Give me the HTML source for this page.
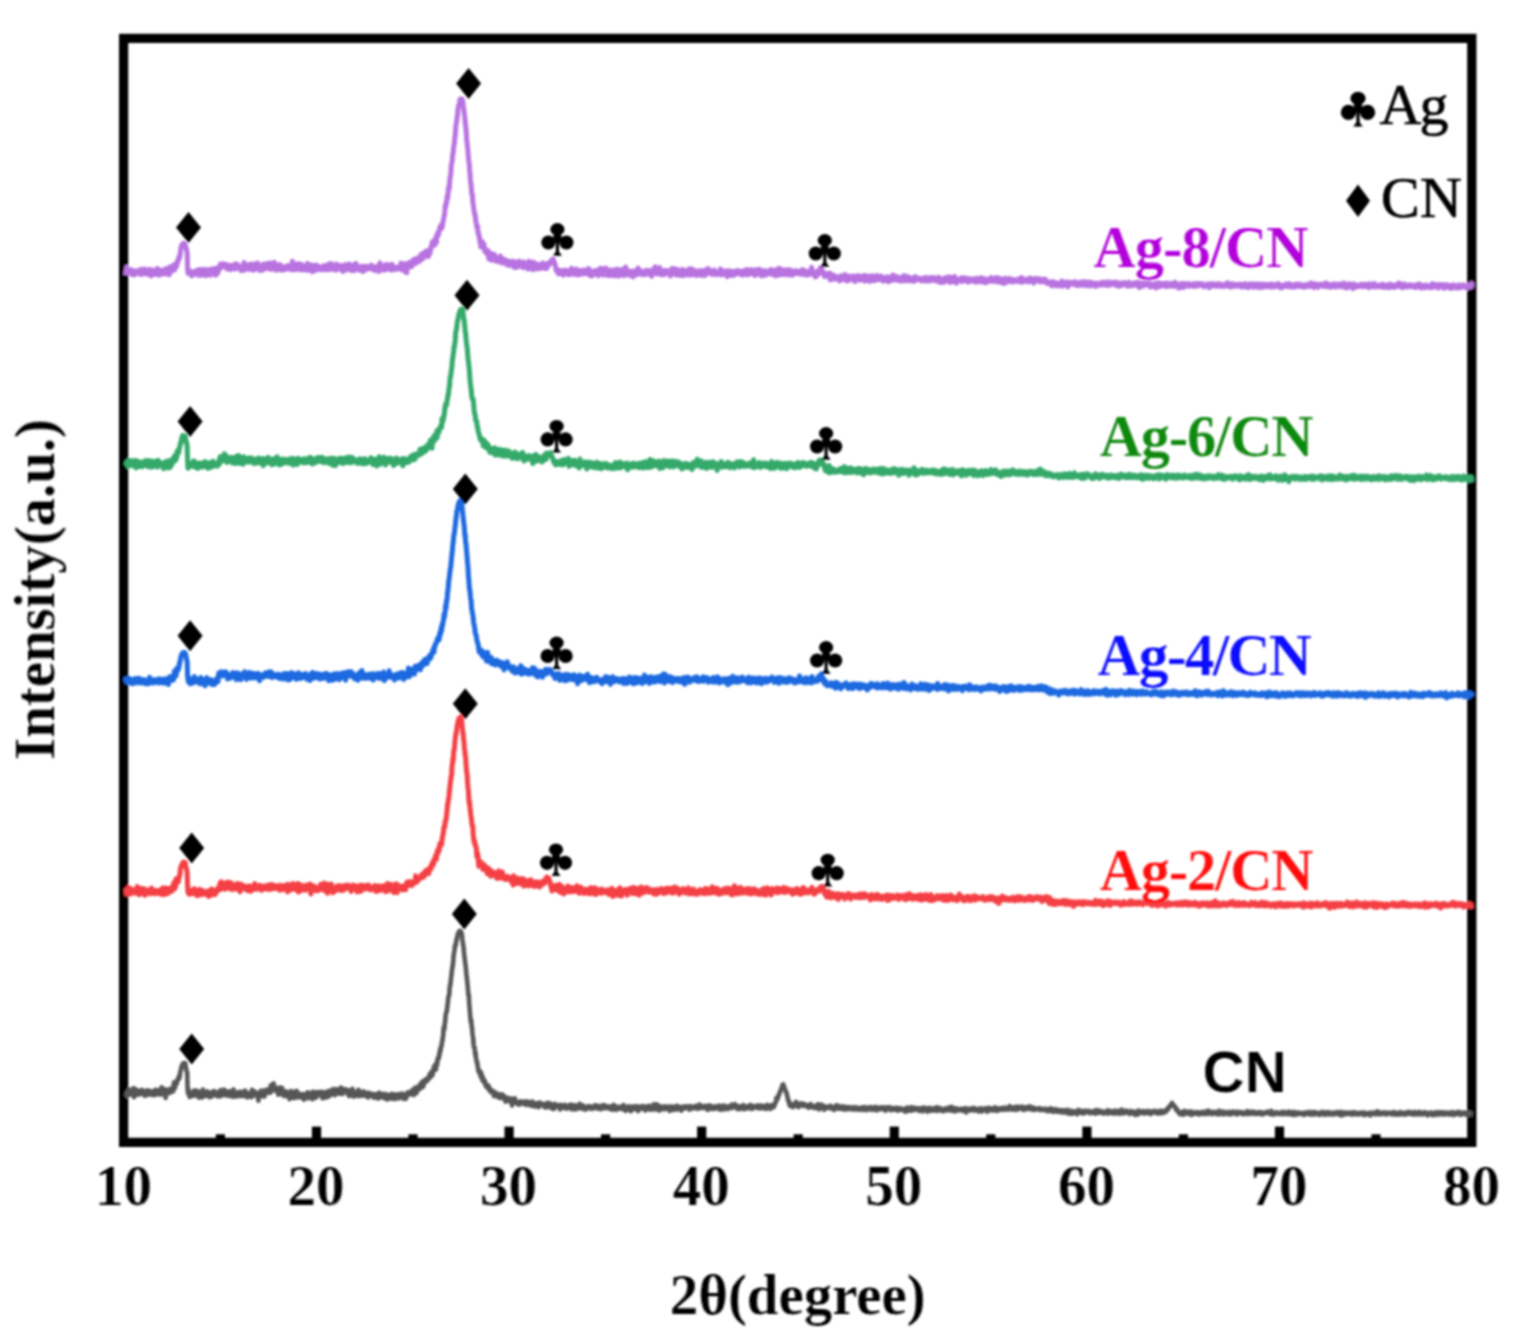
<!DOCTYPE html>
<html lang="en"><head><meta charset="utf-8"><title>XRD patterns of CN and Ag/CN samples</title>
<style>
html,body{margin:0;padding:0;background:#fff;}
body{width:1517px;height:1340px;overflow:hidden;}
svg{display:block;}
text{font-family:"Liberation Serif","DejaVu Serif",serif;fill:#000;}
.b{font-weight:bold;stroke:#fff;stroke-width:0.12px;}
.lg{stroke:#000;stroke-width:0.7px;}
.sans{font-family:"Liberation Sans","DejaVu Sans",sans-serif;font-weight:bold;stroke:#fff;stroke-width:0.12px;}
.cv{fill:none;stroke-width:50;stroke-linejoin:round;stroke-linecap:butt;}
</style></head><body>
<svg width="1517" height="1340" viewBox="0 0 1517 1340" role="img" aria-label="XRD patterns">
<defs><filter id="soft" filterUnits="userSpaceOnUse" x="0" y="0" width="1517" height="1340"><feGaussianBlur stdDeviation="1"/></filter></defs>
<rect width="1517" height="1340" fill="#fff"/>
<g filter="url(#soft)">
<path id="frame" fill="#000" fill-rule="evenodd" d="M119.00,33.85 H1476.45 V1147.00 H119.00 Z M128.25,43.10 H1467.15 V1137.65 H128.25 Z"/>
<g id="ticks" fill="#000">
<rect x="215.8" y="1134.3" width="9.2" height="5"/>
<rect x="311.9" y="1126.6" width="9.2" height="12"/>
<rect x="408.4" y="1134.3" width="9.2" height="5"/>
<rect x="504.5" y="1126.6" width="9.2" height="12"/>
<rect x="601.0" y="1134.3" width="9.2" height="5"/>
<rect x="697.1" y="1126.6" width="9.2" height="12"/>
<rect x="793.6" y="1134.3" width="9.2" height="5"/>
<rect x="889.7" y="1126.6" width="9.2" height="12"/>
<rect x="986.2" y="1134.3" width="9.2" height="5"/>
<rect x="1082.3" y="1126.6" width="9.2" height="12"/>
<rect x="1178.8" y="1134.3" width="9.2" height="5"/>
<rect x="1274.9" y="1126.6" width="9.2" height="12"/>
<rect x="1371.4" y="1134.3" width="9.2" height="5"/>
</g>
<g id="curves" transform="scale(0.1)">
<path class="cv" stroke="#b873e0" d="M1256,2751l4-36 4-4 4-39 4 48 4-6 4-4 4 16 4 2 4-27 4 3 4 7 4 21 4-2 4-33 4 3 4 33 4 15 4-29 4-11 4 32 4-26 4 19 4 15 4-17 4-10 4 12 4-25 4 9 4-7 4 6 4-5 4 6 4-4 4 9 4-1 4 4 4 20 4-53 4 51 4-27 4-18 4 19 4 5 4 17 4-38 4 23 4-2 4-32 4 9 4 32 4 2 4 7 4-10 4-3 4-5 4 20 4-37 4 12 4 10 4-35 4 52 4-38 4 13 4 40 4-54 4 5 4 38 4-47 4 11 4 17 4-1 4 3 4-4 4 17 4-6 4-7 4-23 4-1 4-21 4 46 4-45 4 49 4 17 4-52 4 7 4 3 4 24 4-31 4 14 4-7 4 4 4 28 4-40 4 18 4 4 4 10 4-39 4 42 4-13 4 7 4-16 4-32 4 17 4 26 4-15 4-3 4 32 4 7 4-42 4 35 4-72 4-2 4 52 4-22 4 14 4-2 4-16 4 9 4-14 4-36 4 27 4-6 4 25 4-59 4 16 4-13 4-4 4 23 4-31 4-23 4 2 4 1 4-37 4-2 4 6 4-29 4-31 4-23 4-16 4-26 4 9 4-11 4-9 4-8 4 3 4 6 4 0 4-3 4 7 4 23 4 6 4 19 4 14 4 15 4 175 4 34 4-2 4-25 4 2 4 16 4-6 4 10 4-15 4 24 4 21 4-4 4 1 4-28 4 16 4-24 4 24 4-24 4-2 4-3 4 25 4-8 4-2 4-24 4 24 4-29 4 53 4-29 4 5 4-5 4-27 4 4 4 24 4 28 4-47 4 7 4 12 4-29 4-1 4 24 4 6 4-6 4 35 4-31 4 9 4 23 4 2 4-60 4 22 4 28 4-46 4 8 4-6 4-2 4 5 4 23 4 20 4 5 4-28 4-35 4 34 4-5 4 12 4-8 4-30 4 39 4-44 4 25 4 18 4 0 4 22 4-71 4 49 4 6 4-18 4 15 4-42 4 22 4-12 4-38 4-4 4-2 4-18 4 28 4-15 4 22 4-2 4-19 4-4 4-13 4 3 4 1 4 21 4-21 4 18 4 3 4-12 4 6 4 30 4 3 4-42 4 11 4-3 4 2 4 33 4-15 4 11 4 10 4-40 4 5 4 5 4 18 4-20 4 14 4 10 4 0 4-12 4-22 4-14 4 49 4-11 4-25 4 8 4 1 4-21 4 35 4-18 4 9 4 19 4-15 4 12 4-1 4-7 4 0 4 33 4-37 4 32 4-45 4 29 4-10 4-16 4-35 4 77 4-50 4 4 4 19 4-1 4 4 4-10 4-22 4 43 4-32 4 20 4 6 4 11 4-25 4-1 4 1 4-29 4 19 4-4 4-3 4 24 4-9 4 35 4-2 4-61 4 36 4-20 4 28 4-7 4 14 4-11 4 8 4-19 4-40 4 24 4 6 4 6 4-9 4 47 4-32 4 26 4-29 4 36 4-52 4 33 4-36 4 31 4 19 4-59 4 13 4 19 4-9 4-22 4 44 4-21 4 22 4-19 4-27 4 11 4 32 4-51 4 16 4 18 4 6 4-2 4-40 4 65 4-40 4 5 4 0 4-3 4-12 4 13 4 31 4-48 4-18 4 55 4-3 4 8 4 19 4-43 4 18 4 6 4 13 4-3 4-34 4-10 4 20 4-24 4 49 4-27 4 1 4-10 4 44 4-23 4-12 4 18 4-12 4 12 4 13 4-28 4 14 4-1 4 12 4-10 4-10 4-12 4 17 4-24 4 30 4-10 4 8 4-19 4-5 4-2 4 37 4-24 4 0 4-29 4 32 4-62 4 87 4-29 4 5 4-26 4 6 4 31 4-15 4 12 4 15 4-11 4-46 4 16 4-2 4 4 4-21 4 0 4 24 4 2 4 20 4-15 4 32 4-59 4 8 4 30 4-10 4-13 4 32 4 6 4 4 4-31 4 7 4 4 4-3 4 18 4-27 4 15 4-46 4 53 4 16 4-30 4 19 4-48 4 24 4-22 4 33 4 4 4-34 4 9 4 5 4 54 4-45 4 4 4 4 4-1 4-10 4-19 4 12 4 41 4-25 4-11 4-17 4 23 4 1 4-12 4 28 4-27 4 8 4 18 4-11 4 16 4-24 4-4 4 17 4-5 4 17 4-14 4-7 4 8 4 4 4-32 4 18 4-4 4 28 4-30 4 27 4-41 4 21 4 21 4-24 4 25 4-57 4 37 4 2 4-5 4-25 4 40 4-54 4 59 4-12 4 12 4-22 4-15 4 10 4 1 4 20 4-17 4 13 4 2 4 16 4-61 4 29 4 19 4 0 4-22 4 5 4 3 4 5 4-13 4-1 4-10 4 13 4 31 4-43 4 34 4 17 4-32 4 38 4-45 4 31 4-31 4-22 4 28 4 27 4-45 4 18 4-27 4 1 4 24 4-13 4 13 4 12 4-45 4 9 4 12 4 41 4-47 4-2 4 18 4 31 4-48 4 6 4 8 4 13 4 27 4-61 4-6 4 34 4 7 4-48 4 30 4 29 4-26 4 19 4-4 4 8 4-4 4-3 4 18 4-33 4 13 4 18 4-31 4 4 4-7 4-3 4 53 4-28 4 25 4-20 4-12 4-7 4 10 4-5 4 17 4-32 4 18 4 6 4-13 4 0 4 14 4 0 4-12 4 2 4-10 4 20 4-12 4-26 4 22 4 17 4-6 4-21 4 29 4-3 4 0 4 17 4-34 4 17 4-15 4 22 4 3 4-12 4 4 4-28 4 26 4-33 4 61 4-19 4-48 4-20 4 71 4-39 4 25 4-33 4 24 4-13 4 23 4-17 4 33 4-41 4 37 4-24 4 10 4-38 4-3 4 50 4-41 4 16 4 1 4-11 4 20 4-29 4 4 4 38 4-31 4 27 4-1 4 15 4-19 4-41 4 21 4 4 4 30 4-16 4-15 4 17 4-15 4 17 4-8 4 18 4-14 4 11 4-18 4 13 4-15 4 14 4-8 4-6 4-5 4 2 4 14 4-50 4 64 4-65 4 39 4-3 4 19 4-9 4-5 4 3 4 15 4 25 4-35 4-44 4 28 4 12 4 50 4-76 4 4 4 15 4-7 4-32 4 38 4-43 4 16 4 26 4-50 4 15 4 34 4-37 4-17 4 6 4 23 4-46 4 15 4-18 4 3 4 42 4-27 4-9 4 13 4-23 4-12 4 40 4-7 4-34 4 26 4 11 4-20 4-2 4-34 4 17 4-34 4 52 4-26 4 24 4-41 4 27 4-48 4 18 4 13 4-7 4-11 4-32 4 50 4-15 4 5 4-4 4-31 4 11 4 37 4-66 4 19 4-21 4 38 4-32 4-26 4 5 4-23 4-24 4-17 4 28 4-15 4 14 4-26 4 11 4 20 4-62 4-9 4 32 4 16 4-67 4-23 4 17 4-12 4 10 4-42 4 5 4-11 4-33 4-9 4 26 4-8 4-34 4 33 4-21 4-30 4-18 4-25 4-14 4-19 4-35 4-60 4 14 4-33 4-28 4 12 4-64 4 27 4-48 4-45 4-27 4 25 4-50 4-66 4-10 4-21 4-82 4-23 4-12 4-44 4-47 4-1 4-56 4-31 4-10 4-68 4-3 4-73 4-44 4-25 4-20 4-33 4-33 4-48 4-24 4-13 4-10 4-14 4-36 4 4 4-5 4-2 4 2 4-1 4 2 4 23 4 34 4 27 4 37 4 29 4 27 4 60 4 25 4 34 4 48 4 75 4 23 4 37 4 41 4 60 4 45 4 11 4 66 4 40 4 62 4 42 4 4 4 89 4 15 4-6 4 84 4 13 4 38 4 23 4 33 4 19 4-1 4 39 4 35 4 17 4 31 4 7 4-20 4 75 4-9 4 11 4 38 4 1 4 52 4-15 4 59 4-35 4 0 4 4 4-22 4 29 4 8 4 13 4-29 4 47 4 29 4-26 4 13 4 14 4-17 4 13 4 31 4-8 4-21 4-4 4 80 4-28 4-32 4 38 4 11 4-9 4-35 4 68 4-20 4-14 4 18 4-16 4-1 4 24 4-51 4 56 4-10 4 8 4 4 4 13 4-1 4-9 4-22 4 21 4-20 4-8 4 28 4-1 4 17 4-60 4 51 4 3 4-9 4 26 4-42 4 24 4-12 4 8 4-17 4 17 4 16 4-9 4 5 4-19 4 45 4-41 4 14 4 12 4-13 4 18 4-9 4 29 4-20 4-1 4-21 4 24 4 11 4-9 4-23 4 8 4 7 4 5 4-24 4 60 4-36 4 5 4-10 4 8 4 36 4-52 4 8 4-9 4 9 4 38 4-39 4 4 4-24 4 26 4 12 4-13 4 2 4 22 4-4 4-12 4-11 4-13 4 58 4-58 4 40 4-15 4-9 4 30 4-30 4 37 4-41 4 28 4 15 4-41 4 56 4-22 4-55 4 66 4 9 4-39 4 2 4 11 4-41 4 38 4 14 4-26 4 30 4 20 4-75 4 3 4 21 4 24 4-4 4-23 4-4 4 8 4 44 4-47 4 7 4 28 4-22 4-13 4 44 4-20 4-18 4 5 4 24 4-23 4 11 4 12 4 2 4-52 4 25 4 3 4 8 4 12 4 7 4-30 4-13 4 21 4-16 4 39 4-27 4-9 4 13 4-32 4 1 4-1 4 7 4 3 4-13 4-8 4-13 4 2 4-7 4 3 4-12 4-1 4 11 4 17 4 7 4 17 4 9 4 8 4 41 4 7 4-13 4 8 4 24 4-19 4-8 4 40 4-30 4 2 4 17 4-23 4 13 4 3 4 11 4-27 4 33 4-13 4 26 4-28 4-14 4 0 4-10 4 20 4-1 4 17 4-14 4-17 4 34 4-26 4 13 4 21 4-3 4-36 4 11 4 26 4-6 4-8 4 7 4-55 4 33 4-20 4 14 4 5 4 15 4 13 4-7 4-9 4-11 4 29 4-18 4-37 4 31 4 10 4-26 4 22 4 23 4-32 4 4 4 0 4-17 4 9 4-9 4 13 4-9 4 32 4-20 4 18 4-38 4 22 4 11 4 2 4-23 4 9 4 4 4-8 4-1 4 17 4-31 4-11 4 24 4 14 4-46 4 66 4-23 4 9 4-26 4 15 4 34 4 1 4-22 4-17 4 3 4 27 4-37 4-4 4 14 4 19 4-35 4 26 4 0 4-4 4-5 4 19 4-6 4-37 4 56 4-21 4-2 4-13 4 2 4-41 4 42 4 15 4 0 4-23 4-31 4 23 4 15 4 29 4-53 4 30 4 11 4 0 4-12 4-49 4 61 4-8 4 8 4-27 4 8 4 36 4-29 4 2 4-13 4 36 4-53 4 20 4 18 4-9 4 17 4-8 4 18 4-30 4 2 4 7 4-37 4 58 4-43 4 38 4 5 4-7 4-15 4-15 4-28 4 49 4-14 4 35 4-36 4 16 4-18 4 15 4-15 4 4 4-32 4 22 4 10 4 26 4-19 4-27 4 51 4-22 4 14 4-37 4-43 4 45 4-4 4 23 4-33 4 12 4-9 4 27 4-19 4 42 4-11 4 1 4-19 4 8 4 11 4-31 4 38 4-24 4 25 4 17 4-12 4-48 4 42 4-28 4-2 4 3 4-17 4 26 4-18 4 33 4-14 4-53 4 30 4-1 4 5 4 1 4 15 4-6 4-17 4 27 4 8 4-16 4 20 4-14 4-18 4 3 4 7 4 9 4-7 4 15 4 2 4-39 4-2 4 18 4 10 4 8 4-5 4-1 4-28 4 23 4-18 4 18 4 8 4-28 4 8 4 47 4-57 4 4 4-11 4-6 4 43 4-30 4 1 4-4 4-36 4 63 4-23 4 8 4 25 4-27 4 4 4 1 4 19 4-46 4 13 4-29 4 39 4 11 4-19 4 42 4-17 4 17 4-31 4 29 4-40 4 16 4-4 4-10 4 37 4-6 4-34 4 24 4-10 4 1 4 9 4-20 4 13 4 2 4-15 4 1 4 25 4-15 4 41 4-3 4-50 4 18 4-40 4 23 4-4 4 3 4-24 4 42 4-2 4-16 4 13 4 17 4 12 4-50 4 51 4-58 4 16 4 8 4 34 4-16 4 0 4 17 4-23 4-12 4 33 4-29 4-18 4-8 4 33 4 29 4-19 4-12 4 20 4-47 4 33 4-16 4 33 4-39 4 29 4-11 4-3 4 12 4-14 4 27 4-29 4-33 4 62 4-2 4-14 4 15 4-12 4-26 4-21 4 17 4 13 4 14 4-33 4 8 4 42 4-38 4-1 4-3 4 44 4-15 4 2 4 13 4-12 4 7 4-17 4 9 4-4 4 1 4-32 4 16 4-2 4-5 4 10 4 32 4-15 4-15 4 5 4 18 4-45 4 27 4 22 4 2 4-15 4-6 4-40 4 19 4 11 4 7 4 1 4-46 4 30 4 13 4-17 4 9 4 12 4-3 4-2 4 9 4 6 4-23 4-13 4 6 4 3 4 8 4-25 4 13 4 8 4 27 4-14 4-11 4 17 4-11 4 1 4 13 4-12 4-3 4 10 4-21 4 10 4-36 4 28 4 32 4-31 4 6 4-7 4-10 4 25 4-8 4 18 4-33 4 16 4-7 4-4 4 28 4-30 4 0 4 54 4-43 4-2 4 11 4-25 4 23 4-25 4 11 4-1 4 31 4-12 4 20 4-2 4-39 4 20 4-16 4-3 4 30 4 4 4-22 4 4 4-1 4 0 4 1 4-22 4 26 4-21 4-8 4 17 4 6 4 10 4-8 4-1 4-16 4 18 4-4 4 2 4-17 4 40 4-16 4-1 4-9 4-7 4 20 4-37 4 15 4 2 4 14 4-14 4 28 4-52 4 54 4-20 4 10 4-23 4 25 4-22 4 9 4-28 4 33 4-7 4-33 4 29 4-3 4 18 4-24 4 14 4 18 4-35 4 44 4-26 4-8 4-18 4-7 4 44 4-23 4-2 4 27 4-6 4-9 4-26 4-8 4 47 4-16 4-3 4 35 4-38 4 13 4 28 4-24 4-19 4-5 4 33 4-39 4 33 4 13 4-28 4 15 4-12 4 22 4-18 4-16 4 17 4-3 4-13 4 6 4-15 4 6 4 23 4-39 4 34 4-5 4-9 4 32 4-12 4-20 4 12 4 12 4-40 4 29 4-8 4 10 4 28 4-44 4 5 4-14 4 23 4 6 4-49 4 62 4 2 4-67 4 18 4 32 4-6 4 17 4-23 4 25 4-42 4 28 4-13 4-1 4-20 4 21 4 28 4-32 4 7 4 6 4-18 4 20 4 4 4-12 4-26 4 54 4-24 4-1 4-3 4-6 4-16 4 25 4 3 4 13 4 10 4-37 4 37 4-24 4 8 4-25 4 21 4-20 4 25 4-30 4 20 4-7 4 12 4-1 4-2 4-10 4 21 4-4 4-21 4 24 4-22 4 11 4-2 4 0 4 13 4-40 4 48 4-47 4 46 4-10 4-32 4 29 4-11 4-13 4 37 4-1 4-12 4 21 4-24 4-7 4 25 4-32 4 24 4 5 4-14 4-2 4 6 4-3 4-15 4-44 4 47 4-13 4 38 4-21 4 12 4 9 4 6 4-29 4 48 4-20 4-5 4-26 4 42 4-23 4 3 4-25 4 30 4-11 4-29 4 28 4-52 4 24 4-9 4 1 4-14 4 13 4 27 4 9 4-10 4 4 4 4 4 35 4-15 4 1 4-15 4 3 4 11 4-13 4 25 4 2 4-10 4 9 4 5 4-25 4 38 4-52 4 72 4-51 4 23 4-5 4 11 4-17 4 21 4-32 4 36 4-16 4 11 4 10 4-33 4 9 4-2 4 10 4 4 4 8 4-7 4-6 4 11 4 7 4-1 4 17 4-41 4 13 4-23 4 10 4 19 4 10 4-26 4 14 4-5 4 6 4-4 4-10 4-27 4 11 4 29 4-7 4 32 4-30 4 13 4-31 4-3 4 23 4 22 4-18 4-11 4 11 4 3 4-3 4-6 4-16 4-1 4 9 4 6 4-17 4 43 4-15 4-16 4 19 4 24 4-32 4 0 4 12 4-35 4 12 4-3 4 22 4-36 4 30 4-12 4 3 4-4 4 30 4-34 4-5 4 22 4-13 4 16 4-8 4 1 4 1 4-26 4-4 4 59 4-47 4 25 4-24 4 15 4-2 4 25 4-24 4-20 4 2 4 25 4 9 4 16 4 2 4-51 4 18 4-15 4 21 4 8 4-38 4 39 4-2 4-14 4-5 4 33 4-26 4-14 4 18 4 13 4-5 4-38 4 9 4 13 4 9 4 0 4-21 4 32 4-7 4-29 4 9 4 12 4-20 4 22 4 3 4-9 4 15 4 17 4-35 4 16 4-13 4 29 4-4 4-18 4-9 4 20 4-12 4-16 4 3 4 12 4 33 4-15 4 4 4-6 4 6 4 2 4-37 4 24 4 1 4-2 4-1 4-42 4 39 4-22 4 33 4-21 4 4 4 3 4-28 4 26 4-15 4 31 4-21 4-8 4 33 4-21 4-10 4 13 4-2 4 7 4-18 4 29 4-10 4 18 4-15 4-21 4 29 4-19 4 5 4-35 4 17 4 36 4-3 4-40 4 29 4 0 4 13 4-33 4-8 4 28 4-13 4 1 4-4 4 29 4-29 4 26 4-5 4-18 4 23 4 4 4-12 4-8 4 13 4-20 4 17 4 14 4-39 4-7 4 35 4-22 4 6 4 8 4-10 4 10 4-15 4 6 4 7 4 8 4-13 4 11 4 3 4-1 4-8 4 19 4-28 4 25 4-1 4-1 4-19 4 20 4-7 4-21 4 11 4-14 4 23 4 14 4-6 4-26 4 0 4 11 4 1 4 12 4-15 4 20 4-22 4 21 4-33 4 12 4 8 4 10 4-4 4-18 4-6 4 17 4 0 4-4 4 5 4-18 4 25 4 6 4-25 4 1 4 28 4-2 4-25 4 1 4-14 4 30 4-4 4-2 4 30 4-33 4 1 4 5 4-5 4 17 4-17 4 4 4 28 4-37 4-8 4 18 4-11 4 0 4 12 4 8 4-31 4 17 4-25 4 40 4-26 4 22 4 16 4-6 4-12 4-32 4 51 4-30 4 16 4-17 4 3 4 24 4-42 4 5 4 13 4 17 4-46 4 49 4-22 4 15 4 25 4-27 4 7 4 4 4-22 4 6 4-4 4 5 4-7 4-2 4-1 4 17 4-27 4 19 4 16 4-35 4-5 4 32 4-19 4 1 4 17 4-4 4-13 4 5 4-15 4 12 4 6 4 8 4 1 4 15 4-23 4 13 4-9 4-16 4 17 4 0 4 5 4-3 4-4 4-13 4 7 4 8 4 5 4 2 4-6 4 4 4 10 4-16 4-9 4-11 4 18 4 8 4-13 4 24 4-30 4 6 4 5 4-15 4 28 4-22 4-6 4-8 4 35 4 4 4-28 4-6 4 13 4 5 4-6 4 13 4-20 4 40 4-22 4 9 4-18 4 17 4 9 4-30 4 11 4 11 4-7 4-16 4 5 4 13 4-3 4-12 4 12 4-32 4 29 4 11 4 0 4-17 4 8 4 0 4-4 4-9 4-7 4 10 4-8 4-11 4 40 4-33 4 10 4 0 4-14 4 25 4-25 4 43 4-39 4 7 4 8 4 0 4 2 4 14 4 3 4 13 4-42 4 28 4-4 4-12 4-12 4 45 4-14 4-37 4 40 4-12 4-3 4 6 4-17 4 6 4 13 4-26 4-2 4-4 4 30 4-23 4 9 4-2 4 13 4-3 4-14 4 27 4-12 4-1 4-10 4 1 4 1 4 4 4 5 4 0 4-9 4 2 4 10 4 6 4 0 4-15 4-15 4 17 4 0 4-1 4 5 4-12 4 7 4-29 4 49 4-21 4-4 4 10 4-9 4-6 4 18 4-9 4-9 4 17 4-3 4-1 4-8 4 16 4-23 4 20 4 8 4-29 4 14 4-24 4 21 4-20 4 4 4 18 4 11 4-7 4-8 4-7 4 10 4 28 4-12 4-32 4 7 4-8 4 23 4-10 4-14 4 16 4-4 4-6 4 8 4 14 4-21 4 7 4-12 4 12 4 20 4-9 4-15 4 2 4 21 4-16 4-4 4 19 4-17 4-4 4 13 4-19 4 11 4-3 4 13 4-1 4 24 4-11 4-6 4 8 4-7 4 7 4 5 4 1 4 12 4-8 4-12 4 13 4-15 4 38 4-44 4 20 4 7 4-16 4 5 4 17 4-26 4 25 4-13 4-2 4 27 4-14 4-4 4-7 4 4 4-3 4 22 4-18 4-11 4 3 4 10 4-17 4 4 4-9 4-8 4 51 4-27 4 22 4-13 4-3 4-16 4 12 4 2 4-12 4 18 4 6 4-8 4-3 4-21 4 50 4-23 4-21 4 0 4 5 4-3 4 11 4-10 4 11 4-6 4 2 4-10 4 15 4 1 4-12 4-9 4 19 4-21 4 12 4 13 4 9 4-17 4 7 4 11 4-26 4 7 4 8 4 11 4-28 4 0 4 24 4 3 4-20 4 7 4 10 4-13 4-18 4 23 4 8 4-24 4 28 4-18 4-16 4 22 4-19 4 32 4-10 4 14 4-37 4 19 4 15 4-3 4-6 4-3 4 3 4 4 4 9 4-39 4 8 4 5 4 9 4 2 4-8 4 3 4 9 4 4 4-21 4 6 4 3 4 26 4-33 4 10 4-3 4-5 4 15 4-11 4-4 4 6 4 2 4-10 4-1 4 20 4-18 4 16 4-12 4-7 4-3 4-6 4 25 4 0 4-12 4-7 4 6 4 7 4 12 4-20 4-11 4 20 4-6 4-5 4-11 4 26 4 9 4-26 4-5 4 10 4 2 4 9 4-4 4-19 4 21 4 0 4-9 4 9 4-18 4 11 4-11 4 15 4 8 4-29 4 21 4 8 4-5 4 14 4-18 4 24 4-22 4-13 4 11 4-6 4 20 4 5 4 1 4-10 4-9 4-5 4-6 4 19 4-20 4 11 4 5 4 2 4-19 4 1 4 1 4 22 4-21 4 2 4 16 4 4 4 10 4-20 4 10 4-29 4 26 4 3 4 1 4-15 4 20 4 2 4-17 4 1 4-4 4 0 4 3 4-13 4-1 4 11 4-2 4 15 4-12 4-8 4-8 4 15 4-8 4-7 4 39 4-41 4 38 4 15 4-31 4-6 4 12 4-16 4 11 4 6 4-21 4 30 4-16 4 3 4 11 4-29 4 1 4 17 4 1 4-7 4 2 4-2 4-7 4-4 4 6 4 9 4 4 4-18 4 31 4 7 4-23 4-10 4 6 4 11 4-10 4 21 4-23 4 13 4-5 4 19 4-19 4 1 4-14 4 6 4-11 4 48 4-34 4-2 4 2 4 4 4 2 4-25 4 32 4-12 4-1 4 19 4-16 4-11 4-1 4 18 4-8 4 1 4-15 4 15 4-9 4-1 4 22 4-10 4-6 4 13 4 9 4-35 4 26 4-8 4-3 4 16 4-6 4-14 4 18 4-15 4 2 4-14 4 14 4 6 4-9 4 3 4 14 4-15 4-5 4 24 4-25 4-18 4 12 4 11 4-10 4 0 4 7 4 4 4-1 4 2 4 12 4 23 4-22 4-5 4-14 4 8 4-12 4 11 4-12 4 23 4 11 4-12 4 18 4-40 4 21 4-10 4 3 4-13 4 11 4-1 4-6 4 19 4-4 4 5 4-18 4-1 4-6 4 21 4 2 4-11 4-7 4 9 4 4 4 0 4-8 4 15 4 2 4-23 4 12 4-2 4-14 4 7 4 9 4 10 4-20 4 3 4 2 4-2 4-11 4 24 4-11 4 7 4 3 4-12 4-6 4 3 4 2 4-3 4 5 4-11 4 10 4-2 4 9 4 3 4 14 4-7 4-5 4-7 4 1 4 3 4-6 4 3 4-9 4 13 4-14 4 5 4-1 4 32 4-25 4 9 4-23 4 19 4-9 4 13 4-14 4-8 4 20 4-7 4-15 4 13 4-9 4 18 4-7 4 3 4-13 4 23 4-20 4 10 4-6 4 3 4-13 4 13 4 4 4-18 4 25 4-22 4 5 4-1 4 19 4-17 4 1 4 7 4-1 4 10 4-16 4-2 4-2 4 0 4 16 4-3 4-8 4 2 4-22 4 32 4-4 4-27 4 17 4 4 4 16 4-12 4 11 4 3 4-9 4-17 4-4 4 11 4 11 4-4 4-18 4 21 4-16 4 5 4 15 4-10 4-6 4-3 4 9 4 2 4-4 4-7 4 13 4 4 4-20 4 18 4-13 4 4 4 13 4-23 4 11 4 19 4-2 4-21 4-5 4 24 4-11 4 1 4-19 4 17 4-17 4 13 4 22 4-6 4 4 4-16 4 3 4-8 4 25 4-26 4-9 4 10 4 15 4-16 4 8 4-17 4 8 4-7 4 2 4 9 4 8 4 14 4-14 4-17 4 0 4-4 4 14 4-9 4 8 4-9 4 28 4-20 4 11 4-10 4 26 4-38 4 21 4 9 4-15 4 11 4-11 4 13 4-12 4 18 4-34 4 24 4-13 4 1 4 10 4-12 4-1 4 14 4-18 4 9 4 13 4-19 4 21 4-24 4 14 4-2 4-15 4 23 4-23 4 29 4 1 4-22 4 7 4-3 4-13 4 7 4 8 4 0 4 13 4-17 4-1 4 13 4 1 4-11 4 5 4-8 4 4 4-20 4 3 4 28 4-16 4-5 4 17 4 16 4-10 4-7 4-4 4 19 4-1 4-15 4-6 4 5 4 4 4-7 4-4 4-1 4-9 4 13 4 5 4-17 4 5 4 19 4-19 4 13 4-16 4-8 4 23 4 3 4-4 4-3 4 15 4-18 4-5 4 11 4 8 4-7 4 7 4 5 4-24 4 7 4-1 4 8 4-22 4 26 4-24 4 18 4-7 4-1 4 10 4-19 4 19 4-9 4-11 4 24 4-22 4 18 4-10 4 0 4 18 4-11 4-5 4 11 4-14 4 21 4-22 4 12 4-12 4 13 4-16 4 8 4 9 4-21 4 11 4 6 4-9 4 2 4 10 4 2 4-25 4 7 4-18 4 26 4 7 4-15 4-4 4 17 4-10 4 27 4-6 4-34 4 26 4-1 4 1 4-8 4-14 4 16 4-7 4 24 4-12 4 7 4-24 4 11 4-3 4-6 4 4 4-11 4 17 4-11 4 10 4 3 4-7 4-4 4 15 4 0 4-13 4 16 4-38 4 29 4 3 4-5 4-17 4 17 4 10 4-7 4-16 4 14 4 17 4-4 4 2 4-16 4 9 4-8 4-1 4-10 4 12 4 10 4-9 4-20 4 24 4-17 4 17 4-14 4 24 4-17 4 12 4-25 4 13 4 3 4-16 4 9 4 0 4 7 4-1 4-17 4 28 4-5 4-13 4 16 4-12 4-3 4-8 4-13 4 30 4 8 4-5 4 0 4 14 4-35 4 22 4 13 4-21 4 21 4-23 4-2 4-14 4 25 4 3 4-2 4-4 4 5 4-9 4-15 4 20 4 3 4 22 4-32 4 5 4-19 4 0 4 6 4 27 4-14 4 0 4-6 4 7 4 7 4-3 4-7 4 3 4 2 4 3 4-3 4-7 4-11 4 15 4-1 4-1 4-4 4-7 4 22 4-17 4 6 4-4 4-9 4 20 4-22 4 15 4-4 4 4 4-10 4 21 4 2 4-6 4-12 4-8 4 34 4-41 4 8 4 16 4 1 4-17 4 17 4-19 4 22 4-3 4-5 4 11 4-7 4-27 4 32 4-5 4 7 4-12 4 10 4-11 4 8 4 4 4-14 4-1 4 7 4 7 4-4 4-2 4 5 4-3 4-14 4 24 4-1 4-2 4-28 4 30 4-23 4 11 4-2 4 18 4-7 4-10 4 5 4-11 4-4 4 17 4 1 4-7 4 16 4 2 4-23 4 8 4 2 4-24 4 31 4-2 4-6 4-4 4-3 4 17 4-20 4 11 4-5 4 14 4 1 4-13 4-1 4-13 4 2 4 14 4 1 4-4 4-13 4 3 4-20 4 27 4-24 4 6 4 9 4 20 4-22 4 18 4 13 4-13 4-1 4-18 4 9 4-14 4 23 4 0 4 8 4-13 4 3 4-12 4 13 4 8 4-7 4 3 4-7 4 4 4-4 4-10 4 8 4 9 4-4 4-5 4-7 4 14 4-11 4 3 4 9 4 4 4-16 4 2 4 11 4-10 4 20 4-8 4-8 4-12 4 19 4-6 4-17 4 6 4 7 4 8 4-26 4 18 4 3 4 21 4-20 4-1 4-2 4 4 4 2 4-8 4 7 4 14 4-21 4 9 4 12 4-26 4 7 4-6 4 15 4 3 4-7 4-5 4 0 4 2 4 10 4-7 4 11 4 5 4-23 4 20 4-4 4-13 4-23 4 13 4 17 4-26 4 32 4-22 4 11 4-9 4 3 4 6 4-14 4 9 4-3 4 13 4-17 4 30 4-3 4-30 4 0 4 7 4 9 4 3 4 0 4 2 4-9 4-11 4 3 4 5 4-4 4 32 4-28 4 16 4-4 4-16 4-5 4 10 4 6 4-6 4 14 4-17 4 0 4 9 4 17 4-12 4 11 4-23 4 16 4-6 4 19 4-28 4 7 4-11 4-3 4 19 4-2 4-15 4 19 4-10 4 1 4 19 4-11 4 4 4 4 4-12 4-6 4 18 4 2 4-32 4 7 4 0 4 0 4 21 4-16 4 1 4 5 4 3 4-6 4 4 4-17 4 14 4-9 4 8 4 13 4-9 4-5 4 14 4 5 4-12 4-13 4 22 4-14 4-10 4 14 4-12 4 0 4-6 4 2 4 16 4-32 4 31"/>
<path class="cv" stroke="#34a96b" d="M1256,4657l4-3 4-13 4-21 4 21 4 12 4 12 4-22 4-37 4 22 4-7 4 31 4-5 4-5 4-6 4-29 4 27 4 24 4-37 4 2 4-9 4 17 4 14 4-39 4 40 4-25 4 58 4-46 4 13 4-38 4 49 4-16 4-8 4 33 4-28 4-5 4 33 4-34 4 20 4-23 4-8 4 47 4-21 4 12 4-1 4-15 4 7 4-17 4-1 4 16 4-44 4 36 4-17 4 18 4-20 4 43 4-11 4-24 4 24 4-47 4 9 4 36 4 20 4-31 4 15 4-10 4 26 4-39 4-19 4 15 4 15 4 9 4-22 4 32 4-48 4 32 4-23 4 11 4-3 4 30 4 9 4-68 4 33 4 12 4-22 4 14 4 1 4 16 4-29 4 29 4-18 4 5 4-13 4 10 4 4 4 43 4-27 4-12 4-5 4-18 4 33 4-42 4 7 4 28 4-27 4-8 4 65 4-68 4 11 4-19 4 26 4 15 4 27 4-24 4-14 4-12 4 21 4-27 4 7 4-41 4 30 4-40 4 14 4-32 4 5 4 44 4-27 4-31 4 30 4-66 4 26 4-29 4 22 4-5 4-32 4-20 4-23 4 1 4-28 4-5 4-31 4-9 4-14 4-7 4 4 4-2 4 6 4 0 4-5 4 2 4 30 4 19 4 21 4-1 4 32 4 136 4 84 4-39 4 5 4-5 4-10 4 25 4-20 4 12 4 8 4-9 4-7 4 19 4-12 4-23 4-19 4 18 4 24 4 21 4-35 4 14 4-22 4 33 4 18 4-48 4 17 4 37 4-46 4-7 4 16 4 6 4-10 4 3 4 21 4-37 4 38 4-32 4 28 4 6 4-21 4-10 4-12 4-5 4 38 4-44 4 30 4-7 4 25 4-27 4 33 4-26 4 40 4-44 4-1 4-10 4 39 4-29 4 25 4-25 4-17 4 50 4-4 4-28 4 24 4-51 4 47 4-19 4 10 4-9 4 8 4-7 4-5 4 7 4 5 4 12 4-14 4-23 4 0 4-11 4 31 4-64 4 18 4-33 4 29 4-19 4 11 4-10 4 26 4 8 4-10 4 4 4-7 4-60 4 36 4 24 4-12 4-18 4-9 4 23 4 43 4-45 4 38 4-35 4 29 4-6 4-24 4 3 4 2 4 23 4-38 4 27 4-10 4 42 4-52 4 29 4-2 4 22 4-7 4-45 4 59 4-38 4 17 4-52 4 70 4-24 4 1 4-10 4 30 4-73 4 49 4-14 4 15 4 29 4-44 4 14 4-19 4 36 4-15 4 22 4 12 4-73 4 6 4 22 4 14 4-16 4 26 4-13 4-24 4 25 4-17 4-6 4 20 4-2 4 18 4-40 4-3 4 42 4-17 4 3 4-2 4-24 4 6 4 28 4-3 4-6 4 18 4 13 4-30 4 15 4 7 4-20 4-2 4-17 4 40 4-12 4-5 4-14 4 30 4-48 4 42 4 8 4-22 4-17 4 0 4 33 4-17 4 16 4-28 4-9 4 71 4-69 4 30 4 6 4-21 4 4 4 1 4 24 4-33 4 10 4 20 4-50 4-4 4 23 4-7 4 21 4-4 4-14 4 15 4-16 4 51 4-23 4-22 4 49 4-41 4 13 4-30 4-3 4 52 4-37 4-9 4 4 4 30 4-23 4-7 4-30 4 32 4 19 4-14 4-2 4 49 4-27 4-20 4 19 4-27 4 28 4 18 4-33 4 28 4-31 4-16 4 18 4 1 4 19 4-13 4-15 4 5 4 7 4 10 4-28 4 6 4 11 4-16 4 37 4-20 4-20 4 5 4 35 4-29 4-9 4 30 4 7 4-49 4 33 4 28 4 8 4-20 4-7 4-34 4 35 4-22 4 3 4 18 4-25 4 5 4 41 4-21 4-42 4 16 4-8 4 26 4-24 4 17 4 3 4 8 4-6 4 1 4-4 4-15 4 32 4-16 4-14 4-10 4 25 4 16 4-14 4-26 4 14 4-11 4 13 4 20 4-11 4-5 4-8 4 2 4 10 4-37 4 26 4-27 4 53 4-37 4 35 4-44 4 58 4-17 4-9 4-9 4 0 4 0 4 22 4-6 4 6 4-25 4 4 4-24 4-5 4 36 4-14 4 13 4-4 4-3 4 4 4-35 4 31 4 10 4-6 4 6 4-42 4 50 4-3 4 0 4-6 4 5 4 8 4-24 4 6 4 11 4-33 4 34 4-23 4 4 4-4 4 17 4-26 4 44 4-32 4-4 4 40 4-27 4-27 4 29 4 14 4 10 4-8 4-17 4 45 4-46 4-27 4 63 4-9 4-8 4 26 4-26 4-16 4 7 4-21 4 22 4-21 4-2 4-12 4 27 4 11 4-19 4-23 4 12 4 13 4-3 4-6 4-11 4 49 4-28 4 4 4-5 4-23 4 43 4-34 4 5 4-8 4-11 4 22 4-18 4 15 4 6 4 22 4-55 4 52 4 2 4-39 4 12 4 18 4-37 4 48 4-55 4 38 4-8 4-16 4 3 4 13 4-5 4 3 4-2 4 21 4-7 4-1 4 4 4 2 4 17 4-20 4 2 4-14 4-12 4 10 4 9 4-20 4 43 4-37 4 20 4-15 4 16 4 10 4 10 4-45 4 39 4-29 4 36 4-49 4 12 4 10 4 24 4-21 4 18 4-13 4 8 4-17 4-2 4 6 4-2 4-7 4 1 4-27 4 5 4 13 4 5 4-12 4 57 4-53 4 24 4 9 4-30 4 24 4-11 4-15 4 32 4 3 4 31 4-29 4-38 4 38 4-49 4 23 4-38 4 57 4-12 4 31 4-16 4-23 4 17 4 4 4-29 4 3 4 13 4-39 4 2 4 37 4-6 4-5 4 50 4-37 4 18 4-16 4-6 4-7 4-19 4 27 4-10 4 23 4-27 4 0 4 15 4-30 4 14 4 14 4-5 4 0 4 7 4 2 4 41 4-46 4-13 4 33 4-11 4-11 4 31 4-58 4 37 4-13 4 13 4-1 4 1 4 7 4-26 4 3 4 26 4-16 4-7 4-11 4 17 4-20 4 47 4 21 4-36 4-24 4 31 4-45 4 38 4-14 4 20 4-28 4 11 4 13 4-25 4 27 4-33 4 1 4 27 4-35 4 3 4-14 4-5 4 36 4-20 4-27 4 7 4 7 4 14 4-7 4-5 4-31 4 54 4-48 4 9 4-10 4 25 4-20 4 5 4-15 4-7 4 8 4 3 4 3 4-3 4-1 4-54 4 37 4 3 4 7 4-29 4-16 4-7 4 10 4-16 4 22 4 17 4-39 4 2 4-2 4-11 4 36 4-42 4 31 4-25 4-21 4 14 4-4 4-21 4 7 4 25 4-17 4-52 4 60 4-8 4-10 4 38 4-92 4 29 4 3 4-57 4 41 4-26 4-23 4 41 4-23 4-39 4 11 4-31 4 61 4-76 4 19 4-19 4 25 4-31 4-8 4 0 4-25 4 9 4 7 4-4 4-87 4 35 4-5 4-29 4 0 4-44 4 0 4-57 4-20 4-28 4 23 4-22 4 0 4-42 4-14 4-39 4 5 4-49 4-33 4-2 4-86 4-1 4-36 4-24 4-31 4-25 4-71 4-4 4-48 4-17 4-57 4 1 4-36 4-14 4-84 4-23 4-14 4-25 4-46 4-18 4-19 4-17 4-20 4-18 4-6 4-18 4-10 4-4 4-1 4-2 4 10 4-9 4 15 4 32 4 34 4 24 4 20 4 46 4 54 4 13 4 51 4 39 4 30 4 28 4 42 4 65 4 25 4 39 4 35 4 48 4 64 4 41 4 26 4 35 4 48 4 30 4 12 4 5 4-1 4 48 4 47 4 37 4 18 4 10 4 49 4-3 4 7 4 12 4 50 4-3 4 35 4 15 4 16 4 15 4 26 4-11 4 38 4-12 4 2 4 13 4-1 4 12 4-7 4 53 4-62 4 34 4-9 4-9 4 34 4 24 4-30 4 38 4-46 4 32 4-15 4-2 4 14 4 3 4 25 4 29 4-11 4 16 4-31 4-7 4 39 4 1 4-39 4 13 4 16 4-11 4-19 4 29 4-38 4 75 4-33 4-28 4 41 4 6 4-1 4-18 4-25 4 9 4 48 4-36 4-9 4 8 4-20 4 22 4 13 4-14 4 43 4-47 4 39 4-11 4 22 4-22 4-39 4 12 4 27 4-18 4 38 4-50 4 44 4-19 4 16 4 9 4-51 4 26 4 20 4-5 4-25 4 16 4 8 4-4 4 19 4 20 4-18 4-32 4 7 4 30 4 7 4-30 4 3 4-30 4 63 4-23 4-7 4 22 4-4 4 17 4-40 4 20 4-21 4 19 4-9 4-16 4 8 4 29 4-23 4 13 4-40 4 48 4-50 4 36 4 12 4 37 4-34 4-20 4 8 4 15 4 2 4-13 4 23 4-4 4-25 4 18 4 6 4-32 4 8 4 20 4-8 4 20 4-3 4-19 4 27 4-16 4 13 4 38 4-64 4-15 4 46 4-28 4 0 4 32 4-26 4-34 4 66 4-29 4-10 4 22 4-3 4-17 4 30 4-37 4 26 4-11 4 18 4-1 4-25 4 5 4 41 4-16 4-1 4 1 4-14 4-34 4 17 4 2 4 3 4-42 4 58 4-38 4 18 4-46 4 31 4-18 4 17 4-20 4 10 4-5 4-14 4-3 4 8 4 13 4 12 4 2 4 14 4 13 4 18 4-8 4 26 4 4 4 9 4-28 4 34 4 5 4-19 4-5 4 9 4-17 4 7 4 18 4-22 4 2 4 2 4 5 4 16 4 0 4-41 4 24 4-1 4 16 4 5 4-25 4-1 4-28 4 46 4-2 4-8 4-22 4 21 4-6 4-6 4 11 4-25 4 15 4-36 4 54 4 28 4-64 4 41 4-9 4-8 4 24 4-39 4 31 4-15 4 6 4-27 4 27 4 13 4-8 4-34 4 53 4-12 4-1 4 8 4-23 4 29 4-12 4-12 4 5 4 17 4 26 4-51 4-39 4 56 4-21 4 10 4-3 4 18 4-7 4-16 4 8 4-7 4 9 4 2 4 19 4-40 4 48 4-41 4 28 4 37 4-47 4 27 4-19 4-13 4 33 4-50 4 38 4-15 4 19 4 2 4-7 4-10 4 21 4-41 4 40 4 4 4-31 4 14 4 6 4 15 4-20 4-7 4-2 4-10 4-15 4 57 4-3 4-6 4-22 4 26 4 7 4-26 4 10 4-31 4 28 4 25 4-9 4-2 4-7 4-20 4-9 4 6 4 11 4-3 4 19 4-37 4 36 4-38 4 24 4-1 4 20 4-22 4 3 4 8 4-16 4 32 4-27 4 6 4 18 4-15 4-7 4 21 4-6 4-17 4 33 4-37 4 35 4-6 4-18 4-7 4 17 4-48 4 10 4 48 4-35 4 22 4 5 4-31 4 35 4-44 4 23 4-2 4-35 4 59 4-49 4 5 4 36 4-37 4 25 4-13 4 0 4-8 4 9 4 8 4 6 4-21 4 31 4-18 4 13 4-23 4-12 4 67 4-56 4 38 4-14 4-13 4-8 4 1 4 28 4-33 4 23 4-17 4 0 4-2 4-13 4 35 4 3 4-7 4-26 4 4 4-3 4 28 4-22 4-2 4 14 4 0 4-3 4 10 4-28 4 43 4-37 4-7 4 38 4-40 4 18 4-18 4 43 4-18 4 16 4-26 4-22 4 55 4-6 4-27 4 6 4-12 4-23 4 19 4-14 4 24 4-3 4 15 4 18 4-18 4-19 4-8 4 37 4-74 4 13 4 1 4 61 4-65 4 35 4 26 4-26 4-35 4 37 4-4 4 9 4-21 4 5 4 25 4-17 4-15 4 21 4 6 4 7 4 4 4-50 4 29 4-29 4 25 4 48 4-44 4-2 4-18 4 8 4 17 4 5 4-8 4 34 4-69 4 44 4-44 4 50 4-19 4-17 4 14 4-11 4 20 4-35 4 44 4-2 4-16 4 6 4 18 4 8 4-20 4 1 4-40 4 17 4 18 4-10 4-12 4 20 4 27 4-4 4-55 4 37 4-17 4 30 4-22 4 9 4 4 4-16 4-15 4-4 4 40 4-22 4 7 4 19 4-9 4 15 4-37 4 44 4-19 4 6 4 29 4-29 4-13 4 10 4-3 4 4 4-15 4 18 4 13 4-41 4 29 4-16 4 16 4-18 4 30 4-18 4-15 4 2 4 7 4 15 4-6 4 16 4-31 4 4 4 11 4 35 4-43 4 17 4 4 4-49 4 20 4 12 4-6 4 13 4-2 4-30 4 3 4 3 4-44 4 22 4 33 4-7 4-20 4 16 4 6 4-5 4 30 4-21 4-39 4 53 4 7 4 7 4-17 4-7 4 22 4-14 4-13 4 13 4-24 4 20 4-31 4 26 4 36 4-50 4 4 4 5 4 12 4-31 4 7 4 8 4-3 4-15 4 41 4-1 4 13 4-22 4-23 4-3 4 8 4-16 4 17 4 20 4-9 4-5 4-6 4 35 4-22 4 11 4 44 4-66 4 31 4-6 4-24 4 12 4-10 4-3 4 31 4-27 4-28 4 58 4-17 4-20 4 6 4 16 4-16 4 11 4 16 4-18 4 7 4-3 4-3 4-17 4 34 4-32 4 14 4-28 4 24 4 7 4-19 4 3 4 40 4-13 4-27 4 27 4-15 4 14 4-24 4 17 4 2 4-11 4-7 4 39 4-36 4 24 4-23 4-7 4 17 4-34 4 20 4 16 4-35 4 14 4 12 4 8 4 14 4-4 4-16 4-34 4 37 4-2 4-6 4 8 4-22 4 33 4-13 4-24 4 21 4 12 4-11 4-3 4 19 4-15 4-4 4 4 4-4 4-6 4 2 4 18 4 0 4-10 4-22 4 22 4 11 4 2 4-33 4 30 4 0 4 0 4 16 4-77 4 39 4-3 4 41 4-26 4 21 4-24 4 4 4-8 4 21 4-24 4 11 4 12 4-18 4-20 4 0 4 12 4 40 4-38 4 17 4 10 4-26 4 15 4-16 4 20 4 2 4-30 4 21 4-10 4 18 4 7 4-18 4-15 4 1 4 33 4-6 4-4 4-10 4-7 4 19 4 3 4 21 4-20 4-12 4 34 4-69 4 26 4 25 4-17 4-3 4 10 4 21 4-30 4 34 4-42 4-4 4-3 4 8 4-18 4 30 4 9 4-16 4-13 4 11 4 7 4-21 4 18 4 34 4-35 4-6 4-7 4 34 4-27 4 8 4 32 4-36 4 14 4-1 4-17 4-7 4 47 4-11 4-21 4 38 4-44 4 4 4-15 4 20 4 4 4-14 4 1 4-11 4-1 4 5 4 29 4-16 4 2 4 20 4-6 4-8 4 5 4-21 4 1 4 35 4-2 4-13 4 12 4-23 4 1 4-4 4-22 4 0 4 22 4-17 4 10 4 33 4-25 4-8 4 16 4-6 4-11 4-13 4 32 4-11 4-10 4-11 4 20 4-11 4-2 4 20 4-15 4 19 4 5 4-22 4 5 4 0 4-4 4 11 4-14 4-2 4-8 4 21 4 6 4 5 4-17 4-3 4-17 4 27 4 9 4-3 4-4 4 26 4-26 4-13 4 11 4 13 4-8 4 33 4-38 4 7 4-23 4-10 4 25 4-4 4-43 4 29 4-3 4 10 4-30 4-8 4 12 4 22 4-20 4 31 4 0 4 0 4-2 4 23 4 25 4 1 4 14 4-42 4 35 4-15 4 23 4-12 4 26 4-37 4 13 4-44 4 74 4-47 4 2 4 20 4 22 4-34 4 25 4-32 4 36 4-13 4 9 4-4 4-11 4-3 4 18 4 0 4 7 4-9 4-11 4 4 4-7 4 1 4 11 4 3 4-7 4-9 4 13 4-27 4 30 4-1 4-20 4 6 4 20 4 0 4-16 4 8 4-44 4 51 4 10 4-35 4-23 4 37 4 14 4-22 4 25 4-11 4-8 4 10 4 7 4-14 4-22 4-4 4-5 4 6 4 41 4-7 4-28 4 32 4-32 4 22 4-3 4-12 4 6 4-7 4 8 4 16 4-28 4 23 4-25 4 41 4-41 4-4 4 15 4 0 4 1 4 8 4-26 4 45 4-33 4 5 4-5 4 6 4 22 4-18 4 8 4 33 4-22 4-9 4-28 4 32 4 2 4-14 4-23 4 20 4-9 4 29 4-10 4-2 4-16 4 1 4 22 4 1 4 9 4-17 4-4 4 9 4-23 4 11 4-5 4 21 4-31 4 9 4 9 4 7 4-9 4 7 4-9 4-12 4 17 4 18 4-19 4 0 4 4 4 3 4-5 4-23 4 36 4 11 4-36 4 3 4 13 4-9 4-24 4 58 4-42 4 33 4-25 4-2 4-12 4 18 4 4 4 17 4-19 4-2 4 3 4-12 4 21 4 7 4-16 4 5 4-4 4-9 4 30 4-36 4 24 4 2 4-26 4 25 4-33 4 35 4-36 4 40 4-14 4-29 4 8 4 6 4 2 4 0 4 3 4 7 4-16 4 11 4 4 4 41 4-37 4-15 4 16 4 17 4-7 4-18 4 18 4-35 4 26 4 8 4-19 4 29 4-23 4 3 4-16 4 14 4 3 4 2 4-17 4 12 4-1 4 9 4-12 4-1 4 44 4-15 4-37 4 31 4-28 4 13 4-1 4-2 4 0 4-3 4 12 4 10 4 5 4-60 4 62 4-29 4-18 4 21 4 35 4-11 4-2 4-29 4 34 4 1 4-1 4-8 4-19 4-7 4 1 4 10 4 0 4-3 4-6 4-17 4 19 4-5 4 20 4 9 4-11 4 4 4-5 4-5 4-14 4 3 4 11 4-17 4 30 4-15 4 4 4-5 4-7 4 5 4 14 4 0 4-11 4-3 4 7 4-17 4 12 4-14 4 9 4 21 4-9 4-18 4 5 4 12 4-18 4 16 4 20 4-17 4 13 4-15 4 19 4-18 4-1 4 15 4-22 4 2 4-1 4 8 4-6 4 30 4-44 4 26 4-19 4 12 4 15 4-24 4-23 4 39 4 10 4-18 4-8 4 1 4 11 4-11 4-16 4 15 4 8 4 0 4 3 4 8 4 13 4-39 4 25 4-11 4 1 4-21 4 34 4-39 4 22 4 33 4-33 4 16 4-21 4-1 4 19 4 1 4-14 4-6 4 6 4 5 4-10 4 26 4-23 4 3 4-5 4-7 4 24 4-15 4 14 4-6 4 37 4-26 4 18 4-54 4 28 4 8 4-23 4 18 4-13 4 29 4-23 4 1 4 31 4-32 4-12 4 20 4-16 4-7 4 22 4 4 4-27 4 32 4-34 4 18 4 18 4-8 4-23 4 11 4-7 4-12 4 33 4 22 4-43 4-9 4 14 4 13 4 3 4-16 4 24 4-25 4 13 4 29 4-27 4-3 4 6 4-11 4 4 4-13 4-3 4-3 4 26 4-25 4 22 4 26 4-20 4-18 4 12 4 14 4-27 4 24 4-37 4 7 4 28 4-30 4 35 4-24 4 10 4-5 4-12 4 23 4-10 4 12 4-30 4-14 4 31 4 0 4-2 4 11 4-4 4-25 4 4 4 8 4 8 4-1 4 5 4-33 4 41 4-13 4 5 4 15 4-11 4-14 4 3 4 21 4-14 4 7 4-9 4 24 4 12 4-39 4 3 4-4 4-6 4 39 4-6 4-40 4 7 4 23 4-10 4 13 4-22 4 27 4-39 4 24 4-11 4 6 4 9 4-14 4 0 4-2 4 28 4-40 4 15 4 14 4-26 4-3 4 22 4-27 4-6 4 30 4-6 4 15 4-21 4 21 4-17 4-7 4 27 4 2 4-27 4 6 4 6 4 5 4-7 4-4 4 24 4-15 4-21 4 4 4 5 4 20 4 1 4-24 4 27 4-9 4 4 4-3 4-18 4-2 4 29 4-26 4 16 4 4 4-13 4 15 4-1 4 12 4-20 4-4 4 2 4-15 4 18 4-14 4 10 4 6 4-5 4-17 4 27 4-8 4-13 4 9 4 20 4-21 4 0 4 10 4 2 4-11 4-14 4 10 4-8 4 31 4-11 4-9 4-23 4 18 4 22 4-9 4-9 4-34 4 36 4-6 4 20 4-15 4 7 4 9 4-21 4-7 4 5 4 16 4 17 4-13 4-15 4 34 4-27 4 11 4-6 4 16 4-19 4 11 4 12 4-11 4 5 4 3 4-19 4 23 4-14 4 8 4 1 4 2 4 13 4-16 4 16 4-10 4-5 4 0 4 7 4 2 4-12 4 12 4-6 4 3 4-2 4 0 4-9 4 32 4-10 4-17 4 1 4 0 4 21 4-28 4 23 4-16 4 1 4-9 4 21 4 9 4-9 4-14 4-15 4 18 4 9 4-20 4 18 4-13 4-5 4 0 4 31 4-20 4-13 4 10 4-18 4 7 4-1 4 23 4 9 4-21 4 22 4-24 4 26 4-8 4-3 4-9 4-27 4 31 4-6 4 8 4 6 4-4 4-7 4 10 4-7 4-8 4 16 4-13 4-3 4 20 4-15 4 5 4-16 4 19 4 20 4-20 4 0 4-14 4 19 4-27 4 5 4 13 4 22 4-14 4-14 4-14 4 25 4-27 4 2 4 18 4 0 4-17 4 9 4 11 4-7 4 8 4 6 4 7 4 4 4-11 4-7 4-3 4 29 4-27 4-2 4-7 4 28 4-12 4-15 4-14 4 13 4 6 4 3 4-12 4 8 4 11 4 9 4-6 4-4 4 20 4-25 4 10 4-24 4 3 4 6 4-3 4-9 4 9 4 6 4-12 4 25 4-13 4 11 4-10 4-4 4 4 4 1 4-6 4 12 4-8 4 23 4-3 4-23 4 19 4-9 4-4 4 16 4-29 4 11 4 4 4 8 4-17 4 8 4 2 4-9 4 16 4 2 4-17 4 19 4-19 4 9 4 3 4-6 4 12 4-22 4 10 4-7 4 30 4-4 4-21 4 8 4 5 4-13 4-20 4 15 4 5 4-7 4 5 4 3 4-3 4 12 4 2 4-21 4-1 4 21 4-2 4 6 4-18 4 15 4 1 4-8 4-1 4 9 4-32 4 27 4-1 4 5 4 3 4-12 4-6 4-2 4 19 4-24 4 6 4 2 4 13 4-19 4 6 4 5 4 7 4-8 4 16 4-18 4 8 4 4 4-16 4 11 4-5 4-2 4 2 4 13 4-25 4 15 4 21 4-39 4 21 4 18 4-19 4 25 4-28 4 8 4-8 4-7 4 17 4-4 4-20 4 19 4 5 4 2 4 1 4-3 4 9 4-29 4 2 4 13 4 6 4-2 4-15 4 11 4 6 4-11 4 5 4 1 4-6 4 23 4-22 4-6 4 20 4-19 4 19 4-20 4 16 4-10 4-3 4 3 4-19 4 1 4 29 4 13 4-36 4 6 4 17 4-11 4 8 4-25 4 23 4-13 4 19 4-12 4 8 4-5 4-10 4 25 4-15 4 6 4 18 4-20 4-18 4-9 4 7 4 21 4-20 4 9 4 0 4 12 4-7 4-1 4-7 4 0 4-9 4 11 4 17 4-18 4 2 4-10 4 20 4-16 4 13 4 12 4-24 4 24 4-14 4-12 4 25 4-32 4 25 4-8 4-1 4 4 4-15 4 12 4-7 4 19 4 1 4-18 4 14 4-17 4 4 4 10 4 7 4-14 4-2 4-13 4 24 4-5 4-3 4-4 4 5 4 7 4-1 4-7 4-2 4 8 4-11 4-5 4 0 4 7 4 22 4-8 4-16 4 16 4 6 4-1 4-20 4 13 4-28 4 17 4 11 4 5 4-11 4-6 4 12 4-33 4 17 4 14 4-3 4-22 4 15 4 19 4-32 4 13 4 13 4-23 4 31 4-16 4-2 4 13 4 1 4-3 4-13 4 27 4-27 4 7 4-5 4 5 4-2 4 11 4-12 4 14 4-23 4 5 4 19 4-19 4-6 4 5 4 4 4-3 4 2 4-5 4 1 4-1 4 19 4 4 4-10 4 6 4-9 4 10 4-11 4-6 4 17 4-8 4 11 4-21 4 14 4-9 4-14 4-9 4 24 4-3 4 0 4 8 4 2 4-7 4 18 4-8 4-3 4-25 4 25 4-20 4 9 4 6 4 24 4-20 4-10 4 17 4-11 4 14 4-8 4-10 4-1 4 1 4 11 4-7 4 6 4-3 4-3 4 2 4-9 4 9 4 12 4-7 4 1 4 12 4-28 4 14 4-2 4-6 4-11 4 6 4 7 4-5 4-6 4 20 4-12 4-2 4 22 4-15 4-1 4 26 4-16 4-7 4-17 4 12 4 8 4 14 4-20 4 2 4 6 4-2 4-2 4-7 4 13 4 1 4-7 4 0 4 15 4-33 4-1 4 26 4-15 4 20 4-24 4-18 4 25 4-8 4 31 4-23 4 4 4 15 4-12 4 4 4-19 4 19 4-2 4-6 4-4 4 12 4-19 4 6 4 3 4 1 4 12 4-10 4 5 4 7 4-19 4-1 4 12 4-2 4 20 4-6 4-18 4 6 4-20 4 0 4 23 4-1 4-4 4 27 4-15 4-10 4-11 4 4 4 4 4-9 4-3 4 24 4-11 4-18 4 8 4 2 4 9 4-5 4-5 4 12 4-32 4 43 4-4 4 0 4-19 4 4 4 6 4-6 4 2 4 9 4-14 4 11 4-13 4 19 4-4 4-24 4 11 4 7 4-6 4 0 4 32 4-10 4-19 4 5 4-5 4 0 4-11 4 32 4-11 4 10 4-16 4 28 4-11 4 0 4-34 4 38 4-25 4-26 4 42 4-5 4-12 4 0 4 6 4-5 4 6 4-6 4 12 4 33 4-48 4 12 4 2 4 4 4-4 4-4 4 4 4-7 4-13 4 19 4-3 4 0 4-1 4-13 4 17 4-5 4 14 4-17 4-13 4 9 4 12 4-16 4 18 4-7 4 2 4 6 4-11 4 11 4 9 4-16 4-10 4 6 4 15 4 1 4-21 4 13 4 8 4-6 4-1 4-17 4 14 4-16 4 30 4-12 4-5 4-1 4 3 4-7 4 8 4 2 4-15 4 15 4-20 4 11 4 9 4-5 4-4 4-11 4 33 4-34 4 25 4-20 4-4 4 16 4 5 4-3 4 7 4-13 4 0 4 1 4-4 4 3 4-7 4 5 4 2 4 4 4-17 4 20 4 9 4-10 4-23 4 27 4-1 4 15 4-31 4 16 4 1 4-20 4 5 4 4 4 6 4 5 4-1 4-16 4 3 4 3 4 20 4-30 4-4 4 26 4-18 4 11 4-14 4 22 4 8 4-26 4-12 4 19 4 8 4 10 4-4 4-18 4 13 4-20 4 17 4 1 4 8 4-4 4-3 4 4 4-11 4 12 4-11 4 10 4-29 4 25 4 2 4-36 4 36 4-5 4 6 4-4 4-9 4 0 4-12 4 5 4 21 4-13 4-4 4 4 4-8 4 34 4-28 4 13 4-11 4-5 4-6 4 28 4-10 4 1 4 2 4-7 4-6 4 5 4-3 4 10 4-29 4 26 4-13 4 21 4-6 4-8 4 17 4-40 4 25 4 15 4-18 4-7 4 13 4 0 4 7 4-2 4-15 4 12 4 0 4-18 4 13 4 10 4 4 4-6 4 4 4 4 4-32 4 13 4 12 4 4 4-5 4 1 4-13 4-10 4 6 4 18 4 4 4-6 4-9 4 2 4 4 4-21 4 9 4 10 4-4 4 0 4 14 4-3 4 10 4-22 4 3 4-7 4 25 4-22 4-8 4 10 4 6 4 2 4-6 4 1 4 13 4-4 4-15 4-8 4-2 4 28 4-1 4-9 4 8 4-32 4 39 4-28 4 16 4-16 4 1 4 4 4 11 4 2 4-4 4-17 4 14 4-4 4 9 4 10 4-26 4 31 4-19 4-8 4 11 4-13 4 9 4-1 4 5 4 4 4 7 4-7 4-5 4 13 4-13 4-24 4 6 4 8 4 16 4-3 4-22 4 25 4-9 4-4 4 6 4-2 4-9 4-16 4 19 4-3 4 15 4 8 4-29 4 8 4 10 4 3 4-3 4-24 4 34 4-14 4-9 4 26 4-3 4-17 4 9 4-8 4 2 4-7 4 12 4-16 4-1 4 6 4 2 4 11 4-9 4 5 4 3 4-22 4 24 4 9 4 5 4-26 4 2 4 9 4 19 4-17 4-13 4 15 4-23 4 21 4-3 4-12 4 35 4-35 4 14 4 0 4-10 4 0 4-2 4-7 4 16 4 9 4-1 4-19 4-6 4 23 4-27 4 19 4 2 4-7 4 21 4-30 4 11 4 3 4-8 4 11 4-4 4 4 4-17 4 12 4-7 4-5 4 14 4-32 4 33 4 14 4-21 4 12 4-22 4 10 4 7 4 6 4-32 4 11 4-11 4 9 4 28 4-7 4 2 4 12 4-1 4-30 4 23 4-8 4 6 4-5 4-13 4 20 4-25 4 11 4 7 4-7 4 1 4-15 4 18 4-25 4 15 4 3 4 8 4-4 4 12 4-8 4 1 4-11 4 5 4 2 4-2 4 2 4-11 4-1 4 12 4 6 4 1 4-18 4 10 4 7 4-15 4 5 4 8 4 6 4-3 4-2 4 12 4-8 4-8 4 4 4-20 4 25 4-24 4 21 4-5 4 14 4-22 4 4 4 12 4-1 4-23 4 27 4-19 4 8 4-8 4-1 4 0 4-10 4 9 4 22 4-26 4 23 4-3 4-6 4-4 4 22 4-24 4 10 4-9 4 18 4-36 4 14 4-3 4 15 4-12 4 23 4-3 4-16 4-10 4 19 4-16 4 2 4 22 4 6 4 3 4-28 4 6 4-8 4 0 4 0 4 26 4-8"/>
<path class="cv" stroke="#1e69e0" d="M1256,6815l4-28 4 19 4 14 4-12 4-10 4 1 4-1 4-3 4 4 4-15 4 32 4-24 4 34 4 9 4-1 4-28 4 11 4 21 4-35 4-6 4 20 4-23 4 25 4-35 4 41 4-41 4 28 4 17 4-9 4-21 4 6 4 18 4-4 4-36 4 19 4 3 4 24 4-33 4 12 4 15 4-11 4-3 4-2 4 23 4-3 4-32 4 3 4 20 4-14 4 5 4 28 4-23 4 12 4 10 4-23 4 9 4 6 4 8 4-23 4-40 4 32 4 2 4 1 4-6 4 19 4-4 4 13 4-20 4 7 4 2 4 8 4-33 4 3 4 29 4-3 4-21 4 12 4-2 4-5 4 5 4 2 4-23 4 39 4-35 4-5 4 21 4-11 4 11 4-16 4 29 4-20 4 0 4-3 4-8 4 2 4 37 4-3 4-40 4 28 4-3 4 8 4-33 4 31 4-12 4-1 4-12 4 50 4-64 4-9 4 30 4-8 4-1 4 1 4-30 4 7 4 21 4 12 4-30 4-5 4 28 4-38 4-46 4 41 4-6 4-13 4 25 4-20 4-58 4 13 4-10 4 18 4-9 4-23 4-8 4-40 4-1 4-24 4-26 4-5 4-22 4-1 4-10 4-7 4-3 4 0 4 6 4-5 4 7 4-2 4 11 4 25 4 11 4 32 4 4 4 152 4 30 4 23 4-16 4-2 4-18 4 56 4-11 4 6 4-7 4 6 4-23 4 7 4 8 4 4 4-11 4-10 4-43 4 51 4-14 4-5 4-9 4 16 4 16 4-2 4-23 4 6 4 26 4-20 4 6 4 25 4-6 4-33 4-23 4 34 4 10 4 19 4-7 4-8 4-10 4-2 4-2 4-11 4 14 4 45 4-38 4-2 4-31 4-9 4 45 4-6 4 9 4 0 4-12 4 8 4-6 4 7 4 14 4-41 4 38 4-15 4-3 4 29 4-26 4 20 4-25 4-5 4 38 4-18 4-1 4-30 4 31 4-7 4-23 4-17 4 24 4 11 4-39 4-47 4 20 4-16 4-6 4 5 4 15 4-31 4 29 4-14 4-4 4 32 4-37 4 23 4-20 4 1 4 6 4-1 4-14 4 11 4-4 4 27 4 0 4 37 4-46 4 6 4 33 4-35 4 4 4 31 4-33 4 3 4 16 4 5 4-19 4 11 4-41 4 9 4 27 4-26 4 8 4 29 4-25 4 33 4-21 4 39 4-38 4-31 4 4 4 37 4-17 4 18 4-14 4 19 4-32 4 16 4 38 4-30 4-10 4 15 4-18 4-19 4 9 4-12 4 23 4 3 4-41 4 37 4 16 4-34 4 58 4-39 4 23 4-39 4 11 4 14 4-6 4-11 4-23 4 56 4-24 4 25 4-11 4-15 4 9 4-2 4-29 4 46 4-12 4-4 4 12 4-21 4-7 4 9 4 23 4-45 4 41 4-7 4 3 4-12 4-25 4 35 4-3 4 41 4-53 4 23 4-25 4 12 4 15 4-12 4-19 4 27 4-23 4 18 4-19 4 18 4-22 4 4 4-23 4 9 4 14 4-4 4 11 4-1 4-18 4 26 4-41 4-5 4 13 4-2 4 3 4 12 4-26 4 53 4 3 4-29 4-10 4 12 4-3 4 22 4-7 4-12 4 15 4-2 4-10 4 9 4 11 4 3 4-11 4-21 4 33 4-33 4 24 4-13 4 1 4 33 4-35 4-2 4 28 4-28 4 7 4 7 4 9 4 17 4-23 4-31 4 37 4 0 4-37 4 17 4 15 4-11 4-17 4 0 4 61 4-63 4 12 4 18 4-14 4 42 4-37 4 27 4-44 4-16 4 35 4 5 4-10 4-7 4 25 4-15 4-22 4 31 4-20 4-5 4 43 4 7 4-35 4-9 4 14 4 19 4-54 4 16 4-11 4 53 4-26 4-14 4 39 4-8 4-29 4 20 4 8 4-30 4 24 4-17 4 20 4-20 4 1 4 17 4-35 4 14 4 14 4 28 4-39 4 17 4 1 4-15 4 8 4 10 4-8 4 40 4-53 4-15 4 31 4-34 4 38 4-19 4-30 4 36 4 23 4-39 4 7 4 4 4 22 4-33 4 2 4-11 4 11 4 6 4-15 4 36 4 0 4-2 4 14 4-17 4 23 4-25 4-5 4-19 4 40 4-36 4 20 4-21 4 0 4 38 4-32 4 31 4-29 4 17 4-35 4-1 4 49 4-16 4-21 4-2 4 9 4 25 4 29 4-40 4-17 4 15 4 21 4-32 4 1 4 10 4 3 4 34 4-58 4 14 4 17 4-2 4 22 4-57 4 4 4 30 4-11 4-21 4 44 4-28 4 9 4-11 4-18 4 34 4 27 4-43 4 10 4 7 4-31 4 18 4 17 4-43 4 15 4 29 4-44 4-4 4 14 4 15 4 10 4-26 4 61 4-65 4-15 4 26 4 17 4-26 4 8 4-8 4-20 4 24 4-26 4 25 4 0 4 21 4-46 4 24 4-15 4 39 4-27 4 5 4 12 4 5 4 25 4-30 4 35 4-18 4 2 4-12 4-14 4 46 4-33 4 42 4-36 4-11 4-23 4-8 4 15 4-2 4 39 4-32 4 36 4-76 4 63 4-13 4-19 4 18 4 11 4-18 4 3 4 35 4-18 4-6 4-12 4 6 4 22 4-14 4 1 4-1 4-19 4 38 4-37 4 16 4 19 4-40 4 42 4-16 4 7 4-33 4 9 4 51 4-24 4-38 4 32 4-14 4 22 4-19 4-12 4-3 4 1 4 11 4 13 4-4 4-33 4 45 4 8 4-44 4 11 4 16 4-26 4 40 4-15 4-18 4 16 4-4 4-26 4-15 4 50 4 36 4-32 4 15 4-20 4-7 4 16 4-32 4 21 4-7 4-4 4-17 4 31 4-62 4 59 4-16 4 23 4-24 4-3 4 10 4-6 4 20 4-20 4 6 4 22 4-17 4 37 4-41 4 32 4-33 4 8 4-8 4-16 4 29 4-23 4-1 4 0 4 33 4-5 4-41 4 25 4-10 4 14 4-18 4-19 4 29 4 4 4 19 4-49 4 66 4-18 4-24 4-17 4 42 4-12 4 3 4-38 4 12 4 17 4-25 4 34 4-88 4 66 4-15 4 33 4-9 4-12 4 3 4-52 4 23 4 9 4-6 4 11 4-43 4 27 4 3 4 22 4-15 4-62 4 37 4-25 4 5 4 16 4-35 4 19 4 4 4 3 4-9 4-25 4 13 4-12 4 43 4-52 4-11 4 17 4 9 4-28 4 26 4-40 4 23 4-37 4 5 4 11 4-27 4 45 4-13 4-31 4 12 4 30 4-43 4-15 4-5 4 21 4-27 4 17 4-34 4 34 4-20 4 0 4-18 4-13 4-10 4-12 4-21 4-2 4 35 4-62 4 1 4-2 4-19 4-13 4 0 4-9 4-23 4-12 4-3 4-5 4 25 4-8 4-58 4 5 4 8 4-48 4-22 4 32 4-64 4 15 4-20 4-28 4-18 4-50 4 26 4-36 4-30 4-49 4 30 4-76 4 2 4-28 4-70 4-7 4-52 4-54 4-14 4-43 4-33 4-28 4-17 4-47 4-46 4-36 4-30 4-60 4-22 4-51 4-32 4-6 4-50 4-20 4-43 4-39 4-23 4-47 4-12 4-10 4-34 4-9 4-23 4-8 4-1 4-2 4-11 4 13 4-2 4 18 4 31 4 37 4 36 4 40 4 35 4 33 4 38 4 76 4-14 4 81 4 10 4 50 4 49 4 43 4 54 4 35 4 92 4 35 4 61 4 48 4 3 4 59 4 30 4 18 4 79 4 8 4 35 4 8 4 36 4 46 4 16 4 24 4 17 4 52 4 0 4 12 4 24 4 29 4 17 4 8 4 15 4 19 4 40 4 18 4-11 4 23 4-20 4 9 4 7 4-21 4 32 4 27 4-8 4-24 4 40 4-46 4 18 4 6 4 8 4-13 4 51 4 16 4-34 4 21 4-74 4 74 4-25 4 43 4-34 4-13 4 15 4 1 4 14 4-23 4 62 4-14 4-12 4-4 4 28 4-9 4-21 4 8 4 7 4 29 4-40 4 22 4 15 4-44 4 7 4 27 4 5 4-6 4 4 4 4 4-2 4-22 4 30 4 14 4-2 4-12 4-24 4 30 4 10 4-21 4 0 4 55 4-62 4 35 4-9 4 13 4-25 4-9 4 28 4-52 4 31 4-13 4 16 4 17 4 12 4-7 4 2 4-4 4 4 4 17 4-20 4 36 4-30 4 20 4-31 4 9 4 16 4 13 4 24 4-26 4 5 4 13 4-36 4 11 4 5 4 10 4 10 4-29 4 15 4 20 4-28 4 1 4 10 4-54 4 27 4 58 4-37 4-13 4-11 4 28 4 8 4 16 4-43 4 7 4 4 4-4 4 26 4-21 4 2 4 7 4 5 4 24 4-35 4 4 4 21 4-18 4 28 4-2 4-7 4-17 4-14 4 22 4-44 4 37 4 19 4-28 4 29 4-54 4 46 4 16 4-30 4-10 4 58 4-13 4-35 4 56 4-17 4-19 4 12 4-19 4 26 4-12 4 15 4-43 4 15 4 4 4 12 4 29 4-40 4-5 4 7 4 15 4-22 4-3 4 16 4-48 4 11 4 14 4 20 4-10 4-2 4-6 4-8 4-3 4 9 4-23 4 9 4 0 4 2 4 10 4 8 4 1 4 23 4-13 4 13 4-6 4 1 4 6 4 34 4-43 4 46 4-22 4-23 4 12 4-6 4 11 4-14 4 29 4-37 4 9 4 23 4 37 4-48 4 3 4 10 4-15 4 23 4 12 4-13 4-10 4 7 4 17 4-43 4 61 4-43 4-9 4 39 4-25 4-28 4 60 4-48 4 25 4 15 4-31 4 19 4-33 4 42 4-37 4 24 4 2 4-8 4 20 4-14 4 8 4-22 4 35 4-51 4 25 4 1 4-11 4 23 4-26 4 29 4-2 4-7 4 57 4-46 4 11 4-28 4-14 4-9 4 35 4-30 4 25 4 9 4 16 4-5 4-20 4 13 4-29 4 20 4 7 4-16 4 4 4 10 4-7 4 1 4-6 4-28 4 50 4-58 4 17 4 27 4 16 4 3 4 23 4-55 4 44 4-12 4-8 4 21 4-25 4-15 4 15 4 4 4-2 4 4 4 18 4-13 4-22 4-1 4 22 4-9 4-22 4 28 4 0 4 1 4-5 4 0 4 19 4-4 4-6 4-2 4-2 4-2 4 21 4 17 4-24 4-12 4-8 4 17 4 10 4-18 4-1 4-5 4-29 4 30 4 21 4-51 4 46 4-3 4-29 4 18 4 14 4-36 4 24 4-4 4 46 4-61 4 21 4 8 4-32 4 36 4-48 4 23 4-7 4 5 4 29 4-6 4-15 4-11 4 9 4 9 4-8 4-10 4 22 4-7 4 3 4 6 4 11 4-19 4 9 4-17 4 10 4 9 4-25 4 12 4 0 4-14 4 12 4 38 4-49 4 15 4 2 4-4 4 1 4 17 4 5 4 11 4-48 4 35 4-17 4 25 4-38 4 34 4-53 4 26 4 4 4 14 4-32 4 11 4 13 4-10 4 23 4 18 4-51 4 23 4-34 4 21 4 17 4 18 4-55 4 21 4-2 4 25 4-23 4-17 4 41 4-34 4 14 4-4 4 21 4-37 4 26 4 19 4-30 4 28 4 10 4-32 4-8 4 16 4 7 4-67 4 68 4-22 4 5 4-20 4 9 4-20 4 16 4-5 4 16 4-6 4-3 4 45 4-25 4-38 4 41 4-2 4-43 4 47 4 7 4-15 4-20 4-10 4 26 4 14 4-12 4-19 4 23 4 11 4-17 4-32 4 28 4 3 4-15 4 10 4 5 4-10 4-2 4 3 4-29 4 54 4-15 4-8 4 16 4-17 4-28 4-17 4 33 4-42 4 83 4 6 4-22 4-64 4 51 4-32 4 19 4 20 4-17 4 13 4-14 4 31 4-18 4-26 4-3 4 23 4 7 4 1 4 15 4-11 4-27 4 51 4-23 4-6 4-4 4 24 4-6 4-24 4 0 4 15 4-4 4 4 4-14 4 23 4-26 4 11 4 14 4 5 4-17 4 19 4-30 4 32 4-16 4-2 4-5 4-1 4-1 4 9 4 0 4 31 4-57 4 14 4 52 4-56 4 24 4-18 4 15 4-18 4 9 4-28 4 13 4 19 4-4 4 24 4-40 4 26 4-15 4 10 4 10 4-21 4-4 4 1 4 6 4-3 4-3 4-2 4 9 4-22 4 23 4 6 4-4 4-25 4-6 4 34 4-12 4 25 4-22 4 1 4 0 4 18 4-27 4 26 4-17 4 7 4 8 4-15 4 14 4-5 4-35 4 45 4-12 4 6 4-4 4-9 4-8 4-8 4 20 4-23 4 35 4-24 4 5 4 31 4-28 4-5 4 12 4 14 4-3 4-20 4 10 4 13 4-7 4-1 4-26 4-5 4 23 4 24 4-46 4 41 4-22 4 0 4 22 4-28 4 10 4-31 4 8 4-5 4 43 4-21 4 35 4-42 4 4 4 33 4-9 4-6 4 6 4 3 4-12 4-15 4 6 4 3 4-1 4 15 4-26 4 5 4 3 4-4 4 41 4-39 4 19 4-11 4 45 4-39 4-26 4 5 4 10 4 15 4-27 4 7 4 2 4 33 4-17 4 2 4-49 4 32 4 20 4-25 4-7 4 29 4-2 4 0 4 1 4 12 4-45 4 21 4-10 4 29 4-16 4-20 4 39 4-16 4 13 4-35 4 24 4 0 4-23 4 6 4-20 4 27 4-14 4 20 4-2 4-3 4 12 4-3 4 4 4-17 4 8 4-4 4-16 4 46 4-42 4-6 4 17 4-26 4 24 4-9 4 43 4-29 4-14 4 11 4-7 4 7 4 12 4 14 4-26 4-18 4 22 4 0 4 3 4-14 4 27 4-9 4 22 4-27 4-11 4 15 4-26 4 28 4-13 4-15 4 48 4-30 4-17 4 16 4 40 4-49 4 20 4-4 4 13 4 0 4-29 4 7 4 16 4-29 4 6 4 34 4 0 4-27 4 3 4-12 4 31 4-24 4 1 4-1 4 12 4-15 4-7 4-1 4 17 4-22 4-8 4 22 4 3 4 0 4-6 4 6 4 29 4-28 4 16 4-11 4 4 4 1 4-27 4 17 4 11 4 1 4-23 4 47 4-5 4-28 4-25 4 19 4 22 4-18 4-9 4 32 4-6 4-11 4-18 4 27 4-15 4-12 4 26 4-1 4 13 4-7 4-7 4 8 4-26 4 32 4-12 4-10 4-14 4-10 4 5 4 9 4 12 4 8 4-14 4 16 4-27 4 17 4-8 4 25 4-25 4 11 4 21 4 2 4-32 4 9 4 6 4 8 4 1 4-24 4 22 4-4 4 3 4-20 4-12 4-26 4 44 4-13 4 24 4-27 4 19 4 2 4 9 4-17 4 10 4 6 4-27 4 38 4-34 4-10 4 26 4-32 4 18 4 10 4-20 4 41 4-26 4 15 4-24 4 22 4-29 4 31 4-19 4 10 4-16 4 38 4-65 4 39 4 2 4-22 4 26 4 5 4-8 4-4 4 12 4-9 4 5 4-3 4 6 4-1 4-14 4 7 4-41 4 19 4-7 4 0 4-10 4 1 4-16 4-13 4 26 4 36 4-19 4 0 4 0 4 26 4 22 4-23 4 30 4 5 4-32 4 28 4-3 4 6 4 17 4-5 4 0 4-7 4 9 4 2 4-13 4-9 4 10 4 11 4-27 4 19 4-7 4-1 4 27 4-17 4-4 4 0 4-8 4 31 4 10 4 4 4-60 4 27 4 8 4-2 4-26 4 31 4 5 4-15 4 9 4-1 4 9 4 17 4 4 4-26 4-15 4 24 4-14 4-6 4 4 4 2 4 1 4 0 4-11 4 9 4-24 4-3 4 34 4 6 4-16 4 11 4 8 4 14 4-36 4 12 4-10 4 6 4 2 4 14 4-27 4-5 4 23 4-13 4 35 4-25 4 1 4-14 4-12 4 19 4 6 4 0 4 5 4-23 4 25 4-7 4 13 4-9 4-11 4-14 4 23 4 23 4-26 4-17 4 28 4-21 4-6 4 31 4-8 4-18 4 4 4-2 4 22 4-2 4-16 4 11 4-14 4 27 4-2 4-8 4 30 4-38 4 19 4-4 4-23 4-2 4 27 4-31 4 16 4-29 4 6 4 24 4-19 4-4 4 17 4-13 4 0 4 11 4-13 4 3 4 23 4-5 4-19 4 16 4-17 4 35 4-42 4 34 4-5 4-4 4-3 4 18 4-10 4-9 4-2 4-5 4 25 4-28 4-4 4 20 4-29 4 30 4 12 4 0 4-8 4-3 4 7 4-12 4 0 4-5 4 21 4-48 4 38 4 6 4 2 4-9 4 2 4-9 4 31 4-8 4-38 4 24 4 11 4-5 4-9 4-5 4-14 4 29 4-7 4 10 4-10 4-18 4 3 4 13 4-19 4 21 4 17 4 4 4 1 4-43 4 19 4 10 4-36 4 29 4 7 4-22 4 2 4 1 4-11 4 17 4 11 4 10 4-61 4 15 4 21 4-1 4 0 4-9 4 12 4 27 4-30 4 13 4-1 4 16 4-24 4 3 4 13 4-2 4 1 4 21 4-21 4 4 4-41 4 26 4 9 4-3 4 6 4 3 4 1 4-26 4 28 4-18 4-8 4 9 4-2 4 1 4 27 4-11 4-21 4 12 4 5 4-19 4 29 4-26 4-25 4 52 4-20 4-3 4 19 4-26 4 7 4-2 4 7 4 20 4-22 4-28 4 2 4 36 4 6 4-26 4 12 4 23 4-28 4-17 4 15 4 40 4-43 4 8 4 9 4 7 4-12 4-3 4 16 4-30 4 1 4 3 4 8 4-6 4 6 4 0 4 4 4 7 4-15 4 12 4-21 4 40 4-61 4 13 4 30 4-10 4-2 4 12 4-13 4 11 4 9 4-13 4-1 4 9 4-12 4 4 4-16 4 27 4-22 4 29 4-44 4 24 4 18 4-39 4 24 4 2 4 0 4-25 4 7 4 52 4-9 4-23 4-4 4 21 4-18 4-7 4 1 4 20 4-36 4 40 4-25 4 7 4-10 4-10 4 15 4 21 4-15 4 5 4-3 4-10 4-6 4 31 4-7 4-22 4 17 4 0 4-3 4-2 4 8 4-4 4-10 4 12 4 0 4-13 4 37 4-32 4-11 4 25 4-9 4-2 4-5 4 8 4-9 4-11 4 9 4-7 4 24 4 1 4-11 4-10 4 31 4-26 4-24 4 20 4 12 4 6 4 1 4-11 4 16 4-18 4-4 4 16 4-9 4 14 4 3 4 2 4-8 4-11 4 4 4-12 4 16 4 2 4-1 4-11 4 9 4 9 4-7 4-4 4-5 4 0 4-3 4 35 4-24 4-1 4 0 4 7 4-20 4 17 4-7 4 8 4-7 4 5 4 5 4-10 4-16 4-2 4 3 4 12 4-20 4 19 4 4 4 6 4-10 4-27 4 18 4 4 4 13 4-11 4-15 4 10 4-5 4 19 4-22 4 26 4-23 4 24 4 4 4-13 4-21 4 22 4-9 4 3 4 6 4 3 4-11 4 27 4-24 4 40 4-23 4 0 4-13 4 22 4-17 4 6 4-12 4-10 4 26 4 2 4-20 4 14 4-25 4 30 4-7 4 4 4 23 4-40 4 7 4-11 4 11 4 10 4 14 4-20 4-23 4 18 4 13 4-31 4-4 4 14 4 18 4 8 4-20 4 12 4-19 4 31 4-26 4-1 4 5 4 5 4-14 4 9 4-9 4 4 4-6 4 10 4 13 4-8 4 18 4-5 4-33 4 27 4-27 4 31 4 5 4-13 4 1 4-18 4 21 4-3 4-5 4 4 4 6 4-10 4 1 4-14 4 23 4-26 4 15 4 11 4-20 4-4 4-8 4 5 4 29 4-30 4 12 4-3 4-5 4 27 4-26 4 27 4-2 4-10 4-9 4 10 4-6 4 13 4-7 4-16 4 7 4 7 4-6 4 17 4-24 4 8 4-17 4 33 4-23 4 3 4 12 4-15 4-9 4-6 4 37 4 1 4-28 4 7 4-9 4 21 4 11 4-10 4-23 4 22 4-10 4 12 4 2 4-18 4 47 4-39 4 28 4-11 4 8 4 1 4 8 4 20 4-11 4-36 4 32 4 8 4 3 4-7 4 5 4-12 4 14 4-3 4-15 4-7 4 17 4-12 4 9 4 3 4 4 4-4 4 8 4-13 4 9 4 23 4-32 4-4 4 18 4-16 4-5 4 3 4 0 4 6 4 6 4-4 4-15 4 14 4 1 4 6 4-7 4-20 4 17 4 7 4-1 4-16 4 6 4 24 4-25 4 5 4-8 4 12 4 0 4 11 4-13 4-1 4-1 4 14 4-5 4-20 4-6 4 27 4-10 4 4 4 6 4 13 4-6 4-17 4-14 4 3 4 18 4-2 4 8 4-11 4 4 4-10 4 0 4 2 4 23 4-12 4 2 4-34 4 30 4-7 4 17 4 2 4-3 4-12 4-9 4 11 4 21 4-26 4 2 4 14 4-12 4-17 4 32 4-16 4-7 4-6 4 25 4 10 4-11 4-14 4 11 4-10 4 0 4 7 4-6 4 16 4-22 4 14 4-17 4-6 4 31 4-20 4 5 4 2 4 3 4 3 4-11 4 8 4 7 4-25 4 20 4 0 4-5 4-5 4 20 4-9 4-6 4-1 4 5 4-19 4-3 4 7 4 9 4-7 4 10 4-14 4 29 4-12 4-3 4-33 4 45 4 1 4 13 4-34 4-1 4 2 4 20 4-24 4 6 4-7 4 35 4-22 4-9 4 7 4-3 4-15 4 26 4-7 4-8 4-7 4 9 4 0 4 10 4 23 4-19 4-15 4-9 4 8 4 3 4-4 4 18 4 10 4-33 4 28 4-13 4 5 4-27 4 20 4-2 4 1 4-3 4-7 4 15 4-10 4 7 4 14 4 6 4-17 4 3 4 6 4-22 4 10 4 4 4 3 4 9 4 4 4-21 4-2 4-21 4 26 4-4 4 4 4-15 4 13 4 17 4-3 4-14 4 3 4-19 4 29 4-26 4 4 4-1 4 20 4-12 4 7 4 16 4-13 4-19 4 14 4-7 4 1 4-8 4 19 4-10 4 5 4-10 4 25 4-29 4 6 4-12 4 30 4 1 4-15 4 6 4 4 4-13 4 19 4-4 4-12 4-10 4 17 4 5 4-13 4 14 4-6 4-2 4 0 4 0 4 0 4 17 4-12 4-2 4 15 4-24 4 5 4 12 4-5 4-25 4 22 4-5 4 12 4-1 4-4 4-23 4 10 4 14 4-8 4 17 4-2 4-15 4 4 4 1 4-5 4-3 4 29 4-33 4 14 4-11 4-5 4 22 4-14 4 33 4-29 4 20 4-23 4 0 4 5 4 15 4-27 4 4 4 4 4-5 4 9 4-5 4-6 4 8 4-9 4 21 4-13 4 3 4-3 4 20 4-16 4-6 4-9 4 27 4-35 4 28 4-2 4-12 4 8 4 9 4-6 4 8 4-25 4 8 4 0 4 0 4 5 4 23 4-4 4-12 4-9 4 1 4 19 4-3 4-21 4 15 4-11 4-5 4 3 4 13 4-5 4-13 4 21 4-12 4-5 4 8 4 6 4-17 4-3 4 13 4 0 4 15 4-18 4 13 4-13 4 8 4-8 4-1 4 17 4-17 4 7 4 5 4-6 4-9 4 12 4-13 4 8 4 13 4-14 4-24 4 18 4 8 4-3 4-2 4 29 4-12 4-13 4-7 4 14 4-23 4 12 4-1 4 10 4 5 4-9 4 18 4-8 4-17 4-2 4 18 4-18 4 6 4 7 4-5 4-16 4 23 4-7 4-11 4 13 4-8 4 21 4-37 4 12 4 16 4-5 4 7 4-13 4 7 4 8 4 6 4-8 4-6 4 14 4-16 4 2 4 2 4 0 4-3 4 1 4 8 4-8 4 8 4-4 4 9 4-26 4 12 4 23 4-14 4 1 4-18 4-3 4-4 4 3 4 3 4 6 4-4 4-8 4 40 4-21 4 15 4-46 4 30 4 7 4 5 4 1 4-14 4-9 4 20 4-1 4-3 4 7 4-12 4-10 4 3 4 14 4-9 4-2 4 14 4-10 4-22 4 18 4 14 4-7 4 17 4-8 4-28 4 19 4 5 4 2 4-5 4-11 4-3 4 3 4 24 4-14 4 4 4 0 4-18 4-1 4 3 4 15 4-2 4-16 4 21 4-13 4 3 4-2 4-5 4 8 4 7 4-25 4 12 4-4 4 2 4 1 4 21 4-14 4 9 4 5 4-17 4 2 4 14 4-13 4 15 4-1 4-6 4-21 4-4 4 24 4 0 4-12 4 10 4-7 4 8 4-5 4-4 4 3 4 6 4-17 4 23 4-17 4 18 4 0 4-5 4-7 4 10 4-8 4 3 4 0 4-4 4 14 4-9 4-9 4 18 4-7 4-2 4 4 4-23 4 25 4-4 4-7 4-2 4 2 4 3 4 0 4-13 4 18 4 5 4 14 4-40 4 13 4-15 4 26 4-2 4 6 4-35 4 10 4 13 4 14 4-10 4-11 4 0 4 16 4-10 4-13 4 28 4-15 4 8 4-7 4 0 4 12 4-12 4-18 4 36 4-19 4 8 4-11 4 24 4-23 4 6 4 21 4-20 4 8 4-14 4-3 4 1 4 8 4-19 4 1 4 18 4 7 4-14 4 9 4 14 4-26 4-4 4 26 4-20 4-1 4 19 4-27 4 12 4-1 4 9 4 2 4-9 4 2 4-17 4 16 4 9 4-16 4 8 4 11 4 1 4-12 4-3 4 13 4-19 4 6 4 2 4-4 4-8 4-8 4 8 4 9 4-7 4 0 4 6 4 14 4-7 4-20 4 21 4-6 4 13 4-16 4 17 4-29 4 14 4-5 4-9 4 26 4-24 4 8 4 13 4-6 4 6 4-9 4 14 4-26 4 11 4-5 4 12 4-4 4-9 4 1 4-4 4 13 4 4 4 10 4-24 4 10 4 7 4-17 4 8 4 7 4-18 4 5 4-13 4 30 4-6 4-11 4 15 4-13 4 10 4-9 4 5 4-9 4-1 4 1 4 12 4 2 4-21 4 11 4-10 4 9 4 4 4 21 4-17 4 5 4-8 4-2 4 14 4-7 4-19 4 13 4-2 4 3 4-7 4-2 4 12 4 1 4-24 4 1 4 26 4-4 4-15 4 2 4 1 4-2 4 14 4 1 4 1 4 13 4-19 4 16 4-32 4 16 4 1 4-9 4 3 4 2 4 5 4 17 4-10 4-24 4 5 4-6 4 22 4-3 4-5 4 16 4-15 4-8 4 8 4 10 4-17 4 10 4 4 4 8 4-5 4 7 4-9 4-4 4-8 4 20 4-12 4 3 4-23 4 29 4-8 4-2 4-1 4-8 4 7 4 17 4-10 4-12 4 4 4 11 4 7 4-23 4 2 4 1 4-1 4 11 4-16 4 5 4 6 4 9 4-4 4-9 4-2 4 20 4-12 4 12 4-26 4 33 4-19 4 5 4 2 4-13 4 6 4-21 4 18 4 5 4-16 4 27 4-3 4-21 4-3 4 16 4-17 4 18 4 2 4-23 4 45 4-38 4 8 4-11 4 2 4 20 4-1 4-3 4 3 4-5 4 7 4-3 4-13 4 1 4-7 4 7 4 9 4-3 4-12 4 4 4 6 4-1 4 17 4-19 4 17 4-17 4 18 4-3 4-5 4-15 4 2 4 3 4-15 4 19 4 19 4-15 4-14 4 2 4 15 4 4 4-18 4-4 4 5 4-1 4-12 4 10 4 24 4-3 4-17 4 21 4-6 4-9 4-7 4 2 4 3 4 7 4-7 4 13 4-3 4 14 4-34 4 17 4-7 4-2 4 2 4 10 4-21 4 3 4 13 4 4 4-21 4 8 4-4 4 1 4-3 4 16 4 3 4-6 4-16 4 6 4 32 4-23 4 0 4 15 4-13 4-3 4-5 4 16 4-5 4-7 4 1 4-6 4 11 4-12 4 1 4 20 4-7 4-14 4-5 4 5 4 9 4-10 4 17 4-5 4-3 4 16 4-12 4-5 4 11 4 13 4-13 4-9 4 3 4-29 4 38 4-11 4 1 4-10 4-2 4 8 4 10 4-22 4-2 4 21 4-2 4-5 4-8 4 22 4-1 4-22 4 10 4-9 4 7 4 9 4 10 4-22 4 9 4-2 4 6 4-4 4-9 4 16 4 7 4 1 4-34 4 16 4 4 4-18 4 21 4-1 4-12 4-3 4 9 4-7 4 2 4-5 4 14 4-10 4-17 4 6 4 19 4-16 4 8 4 14 4-25 4 24 4 4 4-15 4-2 4-1 4 17 4-5 4-1 4-8 4 12 4-12 4 13 4-20 4 11 4 2 4-11 4 9 4 8 4-6 4 7 4-14 4 9 4-10 4-13 4 9 4-3 4 7 4 12 4-3 4-8 4 18 4-10 4 3 4 1 4-14 4-16 4 28 4-14 4 40 4-23 4-2 4-7 4 2 4-5 4 1 4 3 4 9 4 3 4 4 4 0 4-22 4-12 4 26 4 0 4-12 4-3 4 5 4-1 4 10 4-12 4 6 4 2 4-10 4 2 4 12 4-6 4-21 4 24 4-1 4 7 4-16 4 15 4-15 4-3 4-2 4 19 4-12 4 0 4 10 4-1 4 2 4-8 4 20 4 2 4-43 4 21 4 7 4-6 4-6 4 6 4-12 4 10 4 24 4-30 4-9 4 21 4-9 4 13 4-9 4-10 4 3 4 21"/>
<path class="cv" stroke="#f44044" d="M1256,8911l4-11 4 35 4 7 4-16 4 4 4-7 4-49 4 68 4-22 4-13 4 20 4-26 4-12 4 49 4-47 4 29 4-18 4 17 4-12 4 7 4 12 4-25 4 12 4 1 4 12 4 4 4-26 4 6 4-45 4 63 4-8 4-15 4 22 4 21 4-19 4-38 4 8 4 40 4-13 4-43 4 36 4 15 4-12 4 13 4-33 4 19 4-34 4 40 4 27 4-47 4 14 4 4 4-18 4 5 4-1 4-7 4 12 4-14 4 12 4-17 4 41 4-36 4 7 4 8 4-36 4 45 4-3 4 11 4-10 4-7 4 1 4-13 4 28 4-25 4 29 4-32 4 26 4 0 4-25 4 24 4-11 4 5 4 1 4-21 4 2 4 14 4 21 4-11 4-29 4 16 4 19 4-56 4 26 4 41 4-34 4-12 4 38 4 5 4-58 4-7 4 38 4 7 4-40 4 14 4 39 4-52 4 32 4-13 4 16 4-25 4 1 4-11 4 19 4-24 4 34 4-24 4 12 4-45 4-10 4 18 4-39 4 61 4 0 4-53 4 34 4-79 4 49 4-20 4-6 4-1 4-25 4 31 4-48 4 0 4-7 4-28 4-45 4-4 4-27 4-2 4-15 4 3 4-15 4-9 4 2 4 7 4-2 4 3 4-7 4 32 4 17 4 14 4 13 4 27 4 136 4 64 4-15 4 12 4 20 4-10 4 8 4-33 4 25 4-28 4 24 4-18 4-14 4 17 4 24 4-16 4-17 4-18 4 12 4 13 4-3 4 20 4-15 4-9 4 53 4-23 4-11 4 16 4-31 4 4 4-20 4 49 4-38 4 45 4-48 4 38 4-36 4 7 4-2 4 7 4 18 4 5 4 4 4-22 4-2 4 19 4 8 4-30 4 1 4 14 4-19 4 3 4 15 4 36 4-26 4-17 4-15 4-5 4 29 4-38 4 33 4-36 4 43 4 15 4-27 4 23 4-25 4 2 4 19 4 5 4-35 4-5 4 18 4-26 4 13 4-26 4 22 4-11 4-24 4-5 4 19 4-54 4 64 4-49 4-29 4 15 4-5 4 2 4 45 4 7 4-47 4 8 4 8 4 9 4 33 4-62 4 26 4 5 4-13 4-4 4 25 4-48 4 30 4 31 4-44 4 7 4 29 4-6 4-8 4-33 4 68 4-41 4 28 4 2 4 6 4 2 4-42 4 1 4 6 4 9 4 11 4-8 4 21 4-17 4-37 4 16 4 12 4 3 4 22 4-2 4 7 4 24 4-77 4 5 4 4 4 33 4-17 4-8 4-6 4 22 4 14 4-16 4 9 4-3 4-5 4 16 4-24 4 21 4 14 4-34 4 19 4 22 4-48 4 16 4 1 4 10 4-19 4 36 4 9 4-49 4 5 4 6 4 22 4-4 4-26 4-5 4 12 4-25 4-12 4 58 4-6 4 2 4-12 4-11 4 10 4 13 4-13 4 7 4-29 4 21 4 3 4-3 4 16 4-38 4 39 4 10 4-14 4-25 4 22 4-20 4 21 4-24 4 24 4-18 4 10 4 11 4-33 4 2 4 20 4-9 4-3 4 26 4-42 4 2 4 42 4-23 4-19 4-3 4 9 4 33 4-38 4-8 4 14 4 13 4 6 4-11 4 17 4-31 4 24 4-21 4 4 4 22 4 1 4-12 4 10 4-7 4-8 4-10 4 18 4 4 4 22 4-1 4-47 4 16 4 4 4 9 4 14 4-7 4-5 4-27 4 14 4 5 4 3 4-17 4 18 4 15 4-46 4 34 4 2 4 11 4 23 4-76 4 43 4 7 4-26 4 15 4-15 4 3 4 29 4-21 4 6 4-33 4 36 4-51 4 32 4 16 4-33 4 27 4 2 4 15 4-38 4 21 4-20 4 25 4-3 4-44 4 23 4 62 4-22 4-18 4-5 4 34 4-64 4 40 4-28 4 16 4-1 4 8 4-5 4 14 4-31 4 41 4-33 4 20 4-13 4 28 4-32 4-20 4 30 4 5 4-1 4-20 4 20 4 4 4-12 4 5 4-42 4 17 4 84 4-80 4 16 4 30 4-25 4-22 4 22 4-18 4-2 4 6 4 14 4 26 4-27 4-4 4 24 4-22 4 6 4-8 4 32 4-8 4-3 4-25 4 4 4 5 4-24 4-15 4 37 4 6 4-21 4 21 4 13 4-3 4-24 4 13 4-53 4 77 4-50 4 25 4 11 4-42 4-9 4 49 4 41 4-52 4-15 4 32 4-53 4 23 4 5 4 21 4-32 4-22 4 18 4 5 4 11 4 53 4-20 4-24 4-7 4 19 4-6 4-16 4 36 4-13 4 0 4-13 4-8 4-17 4 9 4 5 4 22 4-15 4 5 4-17 4-8 4 46 4-18 4-27 4 0 4 26 4 2 4 16 4-33 4 5 4 17 4-32 4-7 4 5 4 9 4 12 4-24 4 5 4 4 4-15 4 3 4 33 4-16 4-9 4 13 4-13 4 5 4 49 4-32 4-13 4 19 4 8 4-46 4 8 4 18 4-5 4 6 4-18 4 33 4-28 4-3 4 16 4 41 4-45 4 18 4-2 4-16 4 3 4-20 4 27 4-31 4 62 4-32 4-23 4 21 4-28 4 43 4-33 4 7 4 13 4 7 4-4 4-14 4 8 4-26 4 0 4 36 4-24 4 7 4 11 4-35 4 5 4 22 4 14 4-15 4 24 4-26 4 2 4 17 4-6 4 0 4 0 4 4 4-12 4-14 4 39 4-48 4 17 4 3 4-14 4 54 4-30 4 15 4-34 4 26 4-33 4 32 4 15 4-46 4 36 4-13 4 20 4-26 4 3 4 1 4-10 4 14 4-24 4 9 4-14 4 34 4 0 4-21 4 48 4-54 4 7 4 18 4-29 4-25 4 41 4 33 4-11 4-25 4 19 4-12 4-10 4-27 4 24 4-14 4 24 4-13 4 41 4-27 4 49 4-56 4 1 4 0 4 18 4-48 4 58 4-11 4-49 4 88 4-59 4-2 4 13 4 9 4-20 4 9 4-4 4-13 4 25 4 8 4-28 4-1 4 18 4 17 4-21 4-9 4 1 4-1 4-10 4 39 4-1 4-57 4 2 4 12 4-35 4 37 4 0 4-10 4-8 4 7 4-2 4-28 4 20 4 20 4-31 4 30 4 1 4-30 4 7 4 6 4-5 4-15 4-8 4 0 4 15 4-68 4 35 4 32 4-23 4 14 4-11 4 3 4-8 4-2 4-17 4 9 4-2 4-19 4 13 4-14 4-19 4 17 4-26 4 37 4-18 4-12 4 22 4-17 4-22 4-18 4 27 4 5 4-39 4 2 4-9 4 17 4 24 4-43 4 39 4-37 4-6 4-11 4 2 4-22 4 30 4-31 4-22 4 10 4-28 4-2 4 29 4-50 4-7 4 0 4 3 4-36 4 20 4 17 4-60 4 14 4-49 4 34 4-26 4-6 4 5 4-56 4-13 4 23 4-14 4 0 4 1 4-51 4-11 4-35 4-9 4-39 4-36 4 13 4-17 4-42 4-18 4 3 4-40 4-37 4-36 4-55 4 5 4-48 4-9 4-43 4-52 4-22 4-46 4-20 4-44 4-1 4-94 4-15 4-60 4 21 4-78 4-35 4-5 4-59 4-42 4-25 4-40 4 0 4-41 4-25 4-13 4-30 4-6 4-25 4 1 4-7 4-1 4-5 4 12 4 5 4 11 4 32 4 50 4 45 4 7 4 65 4 17 4 61 4 32 4 42 4 20 4 64 4 47 4 50 4 15 4 84 4 47 4 28 4 72 4 54 4-13 4 67 4 19 4 52 4 14 4 37 4 41 4 15 4-2 4 85 4 31 4 35 4-10 4 43 4-15 4 28 4 16 4 4 4 82 4 12 4-38 4 24 4 51 4 52 4-32 4-2 4-17 4 9 4 37 4-13 4 1 4 2 4-14 4 61 4-36 4 31 4-21 4-8 4-8 4 33 4 10 4 6 4 1 4 3 4 30 4-6 4-12 4-36 4 46 4 17 4-22 4 1 4-15 4 55 4-59 4 28 4-8 4 23 4-2 4-18 4 1 4 22 4-25 4 18 4 12 4-12 4-13 4 49 4-36 4 34 4-31 4 38 4-61 4-14 4 64 4-40 4 44 4-1 4-38 4 43 4-32 4 27 4-57 4 60 4 1 4-3 4-10 4-2 4 27 4 2 4-4 4-25 4 29 4-26 4-1 4-4 4 8 4 1 4 16 4 3 4-9 4 12 4-16 4 32 4-29 4 11 4 31 4 12 4-6 4 22 4-94 4 41 4 29 4-27 4 12 4 14 4 4 4-6 4-1 4 11 4-55 4 46 4-21 4 25 4-9 4 9 4 6 4-14 4 4 4-3 4-7 4-29 4 9 4 34 4-11 4 43 4-68 4 28 4 6 4 11 4-25 4 7 4 18 4-21 4 38 4-48 4 0 4 27 4 6 4 19 4-29 4-6 4-7 4-20 4 51 4-36 4-2 4 25 4 7 4-23 4 14 4 30 4-35 4 17 4 4 4 13 4-31 4 5 4-19 4 29 4-3 4 6 4 4 4-24 4 22 4 20 4-31 4-9 4-11 4 3 4-5 4 15 4 4 4-12 4 18 4-14 4-11 4 9 4-30 4 30 4-37 4-5 4 10 4-26 4 8 4 7 4 3 4-8 4 5 4 13 4 11 4 22 4 0 4 35 4 0 4 24 4 21 4-9 4-19 4-7 4-13 4 12 4 8 4-1 4-28 4 44 4-10 4 9 4-14 4 1 4-4 4 27 4-4 4-31 4-29 4 60 4 21 4-17 4-3 4-45 4 5 4 44 4-24 4 49 4-42 4 32 4 17 4-48 4 35 4-5 4-40 4 39 4-27 4-4 4-10 4 3 4-22 4 26 4-14 4 47 4-4 4-5 4-20 4-4 4 21 4-17 4-15 4 32 4 10 4-3 4 0 4-10 4-2 4 11 4-1 4-38 4 22 4-18 4-20 4 58 4-26 4 16 4-19 4 25 4 21 4-55 4 33 4-5 4-35 4 28 4 26 4-34 4 14 4 23 4-22 4-11 4 39 4-15 4-24 4 31 4-19 4 12 4-28 4 29 4 10 4-10 4-8 4-8 4-9 4 42 4-25 4 25 4-25 4-37 4 59 4-9 4-22 4 3 4-9 4 18 4-22 4 8 4-9 4 51 4-65 4 68 4-24 4 16 4-9 4 5 4-17 4-7 4 6 4-18 4 9 4 9 4-5 4 20 4-35 4 37 4-15 4-29 4 35 4-21 4 22 4-18 4 15 4-16 4 7 4-1 4-7 4 22 4-16 4-10 4 26 4-23 4-2 4-3 4 15 4 32 4-43 4 39 4-12 4-27 4 26 4 6 4-53 4 49 4 33 4-38 4-3 4-7 4-3 4-2 4 9 4 11 4-2 4 22 4-48 4 14 4-1 4 4 4 2 4-29 4 62 4-40 4-37 4 39 4-17 4 47 4 13 4-40 4-20 4 13 4 14 4-17 4 13 4-16 4 17 4-17 4 21 4-35 4 16 4 25 4 18 4-36 4 7 4-13 4 7 4-1 4-2 4-28 4 19 4 5 4-4 4-15 4-13 4 59 4-21 4 8 4 0 4-48 4 47 4-2 4-25 4-4 4-10 4 57 4-25 4-28 4 30 4-6 4-9 4-12 4 63 4-39 4-3 4 3 4-44 4 27 4 11 4 23 4-46 4 47 4-27 4-23 4 45 4-26 4 7 4-12 4 13 4 3 4-35 4 24 4 6 4-26 4 18 4 2 4 23 4-26 4-5 4 10 4 12 4 3 4-14 4 17 4-19 4 2 4-5 4 17 4 24 4-30 4 12 4-15 4 15 4-7 4 28 4-47 4 3 4 43 4-45 4 1 4 2 4 14 4-11 4 0 4-3 4 1 4 24 4-39 4 2 4 4 4 25 4-12 4-11 4 30 4 13 4-15 4-13 4-9 4-14 4 11 4 10 4 21 4-33 4 18 4-24 4-6 4 8 4-5 4 2 4 10 4 24 4-15 4-6 4 3 4 28 4-52 4 35 4-26 4 41 4-27 4 11 4-44 4 51 4-19 4-21 4 35 4-9 4-7 4-18 4 18 4 13 4-13 4 43 4-36 4 6 4-2 4-8 4 2 4 20 4-22 4 14 4-15 4-15 4 33 4-20 4 18 4 12 4-34 4 26 4-6 4-20 4 32 4-14 4 0 4-12 4-22 4 24 4 37 4-18 4-16 4-11 4 0 4 22 4 19 4-13 4-2 4 2 4-28 4-4 4 50 4-27 4-7 4 11 4 6 4-1 4-10 4 10 4 6 4 14 4-12 4-9 4-1 4 3 4-11 4-17 4 26 4-10 4-10 4 4 4-4 4 32 4-8 4-26 4 19 4-7 4-1 4 14 4 13 4-54 4 48 4-24 4-21 4 36 4-3 4-26 4 24 4 9 4 6 4-18 4-13 4-15 4 42 4-23 4 2 4 2 4-43 4 60 4-14 4-18 4 29 4-13 4 16 4-43 4 4 4 32 4-22 4 17 4-32 4 50 4-41 4 48 4 3 4-40 4 2 4 1 4 2 4 13 4 3 4-14 4 25 4-36 4-3 4 31 4-30 4 7 4-17 4 28 4-12 4 16 4 9 4-9 4-23 4-15 4 44 4-31 4 6 4 17 4 7 4-19 4-20 4 38 4 18 4-35 4-10 4 55 4-52 4-11 4 15 4 35 4-1 4-79 4 37 4 9 4 14 4-32 4-2 4 55 4-22 4 18 4-31 4-4 4-21 4 7 4 41 4 8 4-58 4-2 4 44 4-17 4 17 4-26 4 3 4 34 4-11 4-21 4 31 4-7 4-30 4 16 4-15 4 14 4 17 4-30 4-7 4 32 4 15 4 3 4-44 4-4 4-1 4 18 4-15 4 9 4 23 4 16 4-46 4 28 4-5 4-26 4-2 4 8 4 10 4-1 4-8 4 0 4 24 4 18 4-27 4-4 4 20 4-19 4 22 4 10 4 2 4-33 4 12 4 3 4-8 4 4 4 14 4 0 4-47 4 58 4-24 4 13 4-45 4 17 4 26 4-34 4 51 4-69 4 29 4 6 4-36 4 6 4 30 4 6 4-12 4 9 4-1 4-1 4-10 4 44 4-30 4-14 4-22 4 34 4-20 4 17 4-10 4-6 4 15 4-19 4-5 4 26 4-1 4 11 4-46 4 42 4-34 4 17 4 20 4-31 4-9 4 31 4-8 4-12 4 17 4-6 4 6 4-12 4 17 4 0 4-43 4 13 4 37 4-13 4-7 4 16 4-39 4 13 4-12 4 29 4-2 4-16 4 15 4-9 4 14 4 0 4-14 4 23 4-28 4 18 4-6 4 7 4 24 4 3 4-34 4 29 4-40 4 36 4-23 4 14 4-9 4-6 4 11 4-34 4 18 4 25 4-25 4 2 4-2 4 18 4-10 4 31 4-31 4-17 4 45 4-5 4-26 4-5 4-14 4-15 4 58 4-8 4-11 4-26 4 25 4 9 4-14 4 10 4-14 4-1 4 15 4 11 4-27 4 20 4-9 4 11 4-26 4 10 4 8 4-14 4 7 4-37 4 40 4 6 4-6 4-1 4 31 4-14 4 11 4-32 4 7 4-9 4 7 4-14 4 7 4 11 4-22 4 12 4-13 4 18 4-17 4-18 4 3 4-10 4 8 4-6 4-6 4 41 4-2 4-6 4 0 4-6 4 35 4 14 4-23 4 6 4 21 4 6 4 22 4-22 4 10 4-21 4-18 4-8 4 30 4 28 4-22 4 6 4 0 4 23 4-20 4-23 4 1 4 1 4-3 4 32 4-18 4 11 4 10 4-18 4 25 4-31 4 21 4-15 4 28 4-43 4 27 4 30 4-55 4 30 4-7 4-4 4 14 4-26 4 9 4 2 4-12 4-1 4 5 4 2 4 14 4-16 4 6 4 36 4-40 4 15 4-6 4 14 4-13 4-8 4-8 4 25 4-35 4 7 4 32 4-32 4 21 4 5 4 23 4-10 4-13 4-9 4 5 4-11 4 8 4-11 4 2 4 12 4-6 4 12 4-18 4 24 4-23 4 23 4-4 4-17 4 5 4 5 4-20 4 27 4-32 4 32 4 7 4-7 4 3 4-28 4-4 4-4 4 12 4 10 4 6 4 6 4-3 4-33 4 10 4 18 4-9 4 13 4-16 4 12 4 3 4-3 4-1 4-6 4 12 4 7 4-13 4 37 4-37 4 12 4-32 4 14 4 5 4 10 4-10 4 21 4-6 4 6 4-7 4 11 4-17 4 9 4-34 4 22 4 9 4-16 4-14 4 44 4-33 4 3 4 16 4 5 4-6 4-5 4 7 4 14 4 2 4-31 4 22 4-21 4 12 4-5 4-7 4 19 4-4 4-5 4-4 4-15 4-3 4 52 4-53 4 42 4-24 4-10 4 41 4-21 4 1 4 8 4-22 4-13 4 32 4-11 4-8 4 6 4-11 4 12 4-9 4-2 4 22 4-12 4-3 4-8 4 14 4-3 4 2 4-24 4 30 4-18 4 32 4-24 4-12 4 21 4-9 4 5 4-16 4-3 4 22 4 0 4-11 4 8 4 6 4-17 4 28 4-18 4-23 4 46 4-14 4-4 4 7 4 4 4-46 4 21 4 16 4 2 4 0 4-45 4 17 4 6 4-6 4 32 4-8 4-14 4 27 4-17 4-19 4 33 4-20 4 3 4 14 4-10 4-12 4 15 4-21 4 3 4-4 4 34 4-37 4 39 4-8 4 5 4-22 4 20 4 12 4-52 4 19 4 34 4-19 4-27 4 17 4-1 4 8 4 16 4-12 4 4 4-18 4 13 4-36 4 20 4 26 4-7 4-22 4 32 4-11 4 12 4-34 4 44 4-39 4 26 4-48 4 15 4 41 4-30 4 35 4-26 4-4 4 11 4 13 4-18 4 0 4-2 4-4 4-3 4 17 4-33 4 11 4 1 4-1 4-9 4 18 4-6 4 18 4-6 4-3 4-1 4 10 4-20 4 20 4-34 4 39 4-26 4 31 4-2 4 6 4-19 4-16 4-6 4 17 4-25 4 32 4-6 4 12 4 13 4-23 4 5 4 2 4 4 4-12 4 4 4-36 4 30 4 1 4 7 4 8 4-28 4 3 4 29 4-23 4 16 4 1 4-18 4 1 4 0 4 7 4 12 4 11 4-32 4 1 4-3 4-6 4-25 4 43 4-26 4-7 4 25 4 0 4 1 4 8 4-4 4 20 4-17 4-4 4 13 4 15 4-36 4 11 4-5 4 23 4-3 4-4 4-10 4-21 4 34 4-22 4-7 4 22 4-16 4 20 4 14 4-25 4-14 4 4 4 20 4 0 4-19 4-7 4 22 4-9 4-22 4 29 4 14 4-22 4-10 4 19 4-22 4 23 4-6 4-8 4 3 4-5 4 16 4-1 4-5 4-1 4 5 4-1 4-4 4 0 4-3 4-13 4 18 4 2 4 0 4 17 4-26 4 25 4-16 4-5 4 17 4-16 4-4 4 5 4 4 4-9 4 8 4-17 4 12 4 17 4-14 4 4 4-1 4-22 4 23 4 6 4 0 4-6 4-12 4 12 4-3 4-6 4 24 4 11 4-21 4 6 4-18 4 16 4 0 4-1 4 6 4 32 4-26 4-15 4-16 4 14 4 0 4-10 4 21 4-6 4-36 4 33 4 3 4-11 4 13 4-12 4 8 4-19 4 2 4 13 4-7 4 6 4-5 4 17 4-11 4-4 4 17 4-18 4 12 4-15 4 5 4 9 4 4 4 1 4-20 4 8 4-5 4-13 4 24 4 7 4-14 4 21 4-7 4-9 4 3 4-14 4-8 4 12 4 5 4-6 4-20 4 38 4-6 4-10 4 14 4-22 4-10 4 0 4 23 4 5 4-19 4 11 4 3 4 8 4-17 4 9 4 15 4-26 4 12 4-7 4 3 4-12 4 8 4 6 4-9 4-6 4 25 4-36 4 34 4-13 4 3 4-20 4 20 4-11 4-5 4-1 4 33 4-13 4-12 4 14 4 0 4-14 4 12 4-6 4 2 4-5 4-17 4 13 4-7 4 20 4-9 4 1 4 3 4 2 4-5 4-14 4 8 4-3 4 25 4 15 4-16 4-15 4 22 4-29 4 24 4-12 4 0 4 11 4-12 4-23 4 27 4 1 4 2 4 3 4 17 4-5 4-10 4 35 4-62 4 39 4 18 4-13 4-11 4 25 4-24 4 36 4-3 4-23 4-13 4 38 4-20 4 5 4 18 4-8 4-12 4-10 4-2 4 9 4-9 4 26 4-21 4 11 4-8 4 15 4-10 4-12 4 15 4 4 4-7 4-1 4-15 4-4 4 10 4 3 4 20 4-33 4 14 4-5 4 30 4-11 4 0 4-9 4-17 4 12 4 23 4-6 4-12 4 6 4-4 4-2 4 19 4-30 4 7 4 11 4 0 4 1 4-14 4 17 4 28 4-42 4 4 4 7 4-14 4 27 4-22 4 14 4-15 4 2 4 6 4 0 4 7 4-20 4 5 4 6 4 7 4 1 4-6 4 8 4-18 4 13 4 12 4-29 4 21 4-21 4 5 4 21 4-19 4-5 4 10 4-9 4 5 4 9 4-4 4 2 4-7 4 2 4 13 4-18 4 12 4 2 4-11 4 10 4-4 4 11 4-14 4 0 4 1 4 12 4-11 4 5 4-5 4-8 4 24 4-44 4 41 4-26 4 23 4-18 4 17 4 2 4-13 4 4 4 1 4-16 4-9 4 11 4 14 4 9 4-18 4-3 4 14 4-13 4 35 4-39 4 17 4 5 4-19 4 5 4-3 4 0 4 7 4 15 4-20 4 2 4-20 4 26 4-8 4-3 4-1 4-7 4 42 4-38 4 17 4-7 4 1 4 7 4-2 4-10 4-3 4 10 4-13 4 11 4-2 4 5 4 2 4-8 4 3 4 7 4-16 4 16 4-16 4 17 4-7 4 13 4-7 4-4 4 21 4-10 4-11 4-1 4-7 4-3 4 25 4-7 4-24 4 20 4 9 4-6 4-1 4-9 4 2 4 10 4-10 4 12 4-11 4 13 4-10 4 3 4-10 4-17 4 29 4-5 4 4 4 6 4-19 4-14 4 23 4 2 4-4 4 4 4-7 4 9 4-15 4 12 4-6 4 12 4-10 4 10 4-9 4-14 4 19 4-5 4 7 4-20 4 20 4-9 4-4 4 8 4 2 4-13 4 13 4 12 4-15 4 10 4-10 4 3 4-13 4 3 4-2 4-7 4 6 4 3 4-3 4 12 4 2 4-4 4 5 4-5 4 4 4-2 4-5 4 5 4-19 4 19 4 19 4-13 4-16 4 15 4 4 4-10 4 8 4 7 4-23 4 14 4-7 4 0 4-3 4 8 4 22 4-24 4 19 4-35 4 4 4-11 4 24 4-10 4 1 4 21 4-8 4-1 4-22 4 13 4-5 4 20 4-9 4 14 4-10 4 6 4-2 4 16 4-26 4 2 4-3 4-8 4 2 4 4 4-7 4 14 4-1 4 13 4-12 4-3 4 0 4 10 4 0 4-9 4 1 4 1 4-4 4 7 4-12 4 5 4 3 4 0 4 8 4-15 4-1 4 16 4 4 4-14 4-11 4 4 4 7 4 6 4 3 4-15 4 6 4 2 4-1 4-15 4 30 4-18 4 0 4-4 4 7 4-14 4 21 4-9 4 8 4-26 4 8 4 22 4-13 4 6 4-1 4-12 4 26 4-8 4-2 4-3 4-15 4 15 4 5 4-9 4 3 4 2 4 8 4-16 4 11 4 4 4-2 4-24 4 12 4 2 4 16 4-6 4-7 4 2 4-6 4 20 4-12 4-4 4 23 4-20 4 2 4-4 4-5 4 10 4 6 4-9 4-14 4 0 4 15 4-12 4 12 4 4 4 4 4-3 4-3 4 1 4 5 4-23 4 23 4-8 4-8 4 0 4 4 4 23 4-7 4-14 4-4 4-2 4-10 4 27 4 2 4-9 4 3 4-12 4-7 4 32 4-22 4-10 4-22 4 34 4-4 4 0 4 2 4-8 4 7 4 22 4-14 4-8 4-6 4 4 4 6 4 1 4-2 4 17 4-18 4 0 4 12 4-9 4-5 4-10 4 19 4-4 4 3 4-12 4 1 4 0 4 21 4-8 4-4 4-6 4 4 4-3 4 2 4 5 4-22 4-3 4 11 4-3 4 9 4-2 4 9 4-9 4-21 4 13 4 22 4-4 4-18 4 4 4 10 4 14 4-18 4 2 4-10 4 11 4 4 4-3 4-14 4-3 4 29 4-3 4-22 4 25 4-15 4 11 4-13 4 0 4 13 4-13 4 10 4 5 4-27 4 27 4 0 4 1 4-17 4 0 4 9 4 4 4-2 4-3 4 0 4 8 4 2 4-9 4 12 4-7 4 1 4-20 4-8 4 22 4 1 4-9 4 10 4-11 4 2 4-4 4 8 4-7 4-11 4 32 4-13 4-2 4 6 4 2 4-2 4 9 4-11 4-3 4-4 4-5 4 24 4-2 4-31 4 17 4 8 4-12 4-16 4 17 4 15 4-17 4 21 4-32 4 10 4 10 4-1 4 15 4-16 4 0 4-14 4 0 4 17 4 3 4 3 4-12 4 9 4-5 4 2 4 18 4-22 4 4 4-5 4 5 4 4 4-10 4-2 4 5 4 6 4 15 4-25 4 29 4-17 4-8 4 11 4 7 4-29 4 5 4 7 4-7 4 9 4 13 4-23 4 0 4-6 4 14 4 18 4-12 4-2 4 0 4 11 4 5 4-23 4 12 4-10 4 3 4-11 4 19 4 10 4-18 4 5 4 8 4-11 4-13 4 10 4 9 4 4 4-14 4 5 4 4 4-16 4 10 4-7 4-1 4 9 4 6 4 5 4-3 4-2 4-4 4-13 4 4 4 10 4-11 4 0 4 8 4 6 4-11 4-3 4 4 4 0 4-8 4 5 4-1 4 12 4-10 4 11 4-11 4 27 4-26 4-2 4-14 4 43 4-6 4-20 4 10 4-7 4 0 4 8 4-6 4-11 4 22 4 1 4-12 4 3 4 6 4-24 4 29 4-8 4-26 4 40 4-12 4-2 4-13 4 12 4 0 4 4 4 0 4-24 4 27 4-8 4-10 4 2 4 13 4-24 4 15 4-21 4 31 4-13 4-2 4 3 4 2 4 7 4 1 4 3 4-16 4-1 4 0 4 0 4 3 4-13 4 17 4-5 4 7 4-4 4-4 4-8 4-11 4 29 4-2 4 9 4-12 4-9 4 24 4-24 4 30 4 13 4-17 4-28 4 9 4 1 4 9 4-25 4 35 4 2 4-34 4 29 4-12 4-1 4 22 4-29 4 9 4-20 4 25 4-3 4-9 4 6 4-16 4 25 4-7 4-19 4 29 4-13 4-9 4-4 4 9 4-14 4 6 4 6 4 10 4 4 4-5 4-5 4-4 4 8 4-6 4 2 4-1 4-3 4-6 4-19 4 34 4-20 4 3 4 10 4-3 4 22 4-33 4 4 4 6 4-7 4 15 4-21 4 8 4 8 4 24 4-39 4 25 4-2 4-11 4-3 4 3 4 4 4 3 4-29 4 41 4-19 4 1 4 10 4 3 4-1 4-13 4-6 4 18 4-23 4 9 4 8 4 6 4-11 4 10 4-3 4 19 4-5 4-16 4-22 4 8 4 23 4-7 4 21 4-28 4 13 4-10 4-13 4 25 4-11 4-9 4 8 4 6 4-14 4 3 4 4 4 12 4-28 4 14 4 2 4-5 4 10 4 20 4-44 4 16 4 6 4 9 4-4 4-14 4 34 4-16 4-26 4 39 4-7 4-13 4 2 4-6 4-5 4 3 4 6 4-10 4-4 4 24 4-12 4-6 4 9 4 20 4-26 4 8 4-4 4 6 4 20 4-33 4-5 4 8 4-1 4 20 4-1 4-16 4 0 4 7 4-4 4-1 4-10 4 11 4 0 4-4 4-1 4 5 4-20 4 15 4 8 4 4 4-15 4 10 4-19 4 10 4 13 4 5 4-4 4-9 4-1 4 8 4-15 4-1 4 21 4-29 4 23 4-19 4 21 4-7 4 7 4-5 4-23 4-6 4 12 4 22 4-8 4 2 4-6 4 12 4-28 4 25 4-1 4-6 4 15 4-27 4 17 4-1 4-12 4 17 4-14 4 24 4-17 4 2 4-3 4 9 4-16 4 19 4-10 4 4 4-12 4 7 4 7 4-13 4 10 4-12 4 18 4-10 4-9 4 10 4 5 4 4 4-9 4-1 4-10 4 0 4 28 4-16 4 2 4 1 4-4 4 12 4-12 4-1 4 6 4-16 4 7 4-6 4-12 4 44 4-19 4 13 4-2 4-15 4-8 4 19 4-11 4 3 4 17 4-14 4-10 4-9 4 17 4-8 4 0 4 9 4-10 4 6 4 4 4-7 4-7 4 8 4 4 4-1 4-7 4-2 4-11 4 17 4 10 4 5 4-19 4 1 4-2 4-2 4 5 4 1 4 9 4-15 4 39 4-9 4-10 4-18 4-4 4-1 4-3 4 22 4-3 4-14 4 14 4-16 4 17 4 4 4-12 4 11 4 3 4-2 4-8 4 4 4 1 4-3 4-6 4-4 4 12 4-20 4 14 4-13 4 16 4-18 4-12 4 28 4-19 4 16 4-1 4-15 4 30 4-32 4 18 4 2 4-3 4 1 4-1 4 3 4 5 4-13 4-3 4-3 4 12 4 5 4-6 4 11 4-4 4-5 4-10 4 9 4 17 4 7 4-17 4-1 4 9 4-11 4-5 4 18 4-5 4 3 4-4 4-13 4 9 4 5 4-10 4-10 4 13 4 4 4-7 4-6 4 23 4-14 4 3"/>
<path class="cv" style="stroke-width:46" stroke="#575757" d="M1256,10929l4-1 4 0 4 31 4-34 4-5 4-2 4-8 4-17 4 21 4 30 4 2 4-23 4 4 4 1 4-22 4 11 4-14 4 29 4-3 4-49 4 91 4-23 4-38 4 11 4-29 4 19 4 11 4 9 4 16 4-41 4 41 4-5 4-1 4-12 4-12 4 10 4 15 4-2 4-39 4 5 4 27 4-32 4 23 4-6 4 21 4 5 4-12 4 26 4-42 4 27 4-5 4-14 4-19 4-2 4 5 4 41 4-26 4-16 4 1 4 18 4-9 4 9 4 16 4-24 4-3 4 35 4-24 4-5 4 8 4-10 4-2 4 4 4 30 4-54 4 34 4 15 4-39 4 9 4 4 4 1 4-19 4 40 4-4 4-1 4-5 4-30 4 45 4-18 4-16 4-40 4 49 4-7 4 10 4-1 4-2 4-28 4 51 4-52 4 55 4 31 4-51 4-13 4 18 4-32 4 1 4-5 4 26 4 8 4-10 4-16 4 22 4-12 4-19 4-13 4 21 4-17 4 27 4-26 4 26 4-44 4-46 4 55 4 2 4-14 4-30 4 0 4-19 4 18 4-32 4 1 4-18 4-8 4 13 4-35 4 20 4-38 4-24 4-10 4-25 4-14 4-15 4 1 4-8 4-11 4-1 4 8 4-5 4 7 4-12 4 27 4 25 4 22 4 9 4 7 4 161 4 53 4-39 4 50 4-20 4 45 4-43 4 29 4-21 4 12 4-21 4 34 4-37 4 26 4-27 4-2 4-15 4 19 4 32 4-50 4 44 4-13 4 1 4 9 4-39 4 40 4-25 4-2 4 56 4-53 4-2 4 53 4-47 4-2 4 17 4-4 4-15 4 51 4-79 4 52 4-9 4-2 4 3 4-1 4 11 4 8 4-1 4-15 4 9 4-38 4 1 4 48 4-30 4 23 4-20 4 37 4-32 4 0 4 4 4 23 4-45 4 10 4-11 4 6 4 24 4-5 4-35 4 42 4-21 4 16 4-8 4-17 4 6 4 18 4 12 4-28 4-4 4 33 4 5 4 0 4-33 4-25 4-5 4 33 4 25 4-14 4 8 4-20 4-6 4 9 4-21 4-21 4 31 4 20 4-16 4-18 4 43 4-7 4-35 4 24 4-14 4 20 4-5 4 1 4 20 4-43 4 8 4 10 4-20 4 11 4 6 4 32 4 4 4-17 4-36 4-20 4 59 4-30 4 43 4-28 4 26 4-32 4 2 4 25 4-20 4 22 4-25 4-16 4 40 4-5 4-29 4 23 4 9 4-40 4 30 4 12 4 0 4-11 4 5 4-23 4 1 4-17 4 45 4-31 4-23 4 59 4 0 4-35 4 21 4 19 4 4 4-39 4-4 4 8 4 6 4-9 4 22 4 2 4-4 4 2 4 14 4-75 4 54 4-9 4-34 4 37 4-35 4 28 4 15 4-1 4-28 4 7 4 22 4-13 4 11 4-7 4 26 4 38 4-42 4 3 4-7 4-44 4 10 4 24 4-47 4 58 4-20 4 0 4 2 4-22 4-9 4 27 4 25 4-56 4 32 4-45 4 16 4 8 4-10 4 3 4 14 4-25 4 20 4-11 4-23 4 26 4 6 4 5 4-72 4 20 4 15 4-16 4 32 4-33 4-33 4-4 4 30 4 22 4 1 4-9 4 27 4-30 4 33 4-1 4-4 4-24 4 55 4 11 4-24 4-3 4 2 4-46 4 62 4-37 4 7 4 18 4-46 4 66 4 1 4-7 4 20 4-24 4 19 4-19 4-6 4 7 4-24 4 46 4-35 4 42 4-32 4-9 4 4 4 15 4 7 4 42 4-24 4-43 4-15 4 28 4 1 4 22 4 15 4-37 4-21 4 26 4-5 4 42 4-25 4-41 4 38 4-15 4-24 4-6 4 44 4-12 4 34 4-12 4-27 4 25 4-8 4 16 4-8 4 6 4 8 4-21 4 20 4-32 4 22 4-12 4 14 4 31 4-39 4 20 4-11 4-25 4 19 4-23 4 28 4 15 4-57 4 61 4-9 4-48 4 33 4-19 4 24 4-14 4-13 4 6 4 0 4 8 4 41 4-75 4 60 4-36 4-9 4 16 4-15 4-14 4 41 4 16 4-25 4 11 4-38 4 7 4-12 4 24 4-22 4 23 4 0 4-25 4 10 4 23 4 3 4-24 4-13 4 64 4-24 4-36 4 26 4-20 4 4 4 16 4 29 4-35 4 19 4-45 4 9 4 3 4 20 4 20 4-36 4 8 4-32 4 48 4-31 4-19 4 35 4 3 4-1 4-8 4-21 4 13 4-38 4 35 4 8 4-26 4 44 4-27 4-19 4-14 4 28 4-2 4 12 4-10 4 15 4-4 4 5 4-31 4 33 4-55 4 39 4-30 4-14 4 16 4 34 4 13 4-44 4 10 4-15 4 17 4-6 4 15 4-20 4-2 4 27 4-15 4-11 4 38 4 0 4 6 4-21 4 17 4 25 4-50 4 3 4-11 4 42 4-12 4-5 4 5 4-45 4 49 4 0 4 29 4-23 4-15 4 28 4-32 4 17 4 1 4 3 4-28 4 43 4-14 4-13 4-34 4 34 4 27 4-28 4 19 4 8 4-22 4-18 4-1 4 20 4-5 4 16 4 7 4-28 4-13 4 3 4 10 4 11 4 7 4 14 4-16 4-7 4 8 4-5 4 35 4-48 4 6 4 1 4 8 4-11 4 23 4-11 4 13 4 4 4-6 4 7 4-9 4-10 4 15 4 20 4-15 4-18 4 0 4 18 4-6 4-4 4-10 4 40 4-22 4-20 4 46 4-47 4-13 4 21 4 13 4 4 4-23 4 6 4 17 4-15 4 25 4-36 4 25 4 17 4-23 4 1 4-13 4 25 4-21 4-8 4 25 4 28 4-44 4 33 4-31 4 4 4 17 4 16 4-13 4-22 4-8 4 22 4-6 4-21 4 44 4-47 4 32 4-6 4 25 4-38 4 26 4-21 4 34 4-36 4 31 4-41 4 19 4 0 4 10 4-21 4-5 4 37 4-18 4-25 4 15 4 11 4-1 4-4 4 2 4-28 4 24 4-5 4-14 4 49 4-31 4 7 4-10 4 22 4-34 4 43 4-41 4 4 4 3 4-29 4 12 4 11 4 1 4 0 4-23 4 15 4-18 4 9 4-19 4 9 4-2 4 3 4-27 4 0 4 56 4-33 4-17 4 20 4-45 4 37 4-19 4 38 4-34 4 0 4-19 4 24 4-9 4-35 4 2 4-2 4 29 4-12 4-37 4-10 4 30 4-38 4 51 4-28 4 22 4-59 4 34 4-14 4-9 4-11 4-13 4 10 4-11 4 19 4-17 4-12 4 15 4-15 4-17 4 10 4-33 4 7 4 26 4-22 4-34 4 21 4-8 4 19 4-18 4-36 4-15 4-17 4-6 4 29 4-9 4-33 4 50 4-69 4 7 4 10 4-58 4 6 4-22 4 15 4-50 4 16 4-57 4 20 4-36 4-21 4 4 4-45 4-7 4-35 4-22 4-78 4 14 4 3 4-65 4-5 4-71 4-16 4-18 4-3 4-39 4-31 4-34 4-41 4-10 4-8 4-60 4-41 4 0 4-47 4-29 4-40 4-30 4-39 4-5 4-47 4-54 4-29 4-19 4-37 4-25 4 7 4-24 4-33 4-2 4-27 4-16 4-17 4-12 4 0 4-11 4-1 4-6 4 7 4 0 4 5 4 13 4 27 4 37 4 28 4 26 4 28 4 49 4 37 4 32 4 32 4 28 4 38 4 46 4 36 4 36 4 41 4 50 4 47 4-1 4 87 4 42 4 56 4 43 4 45 4-21 4 55 4 23 4 46 4 35 4 27 4 58 4 30 4-7 4 28 4 53 4-23 4 60 4 12 4 28 4-5 4 36 4 24 4 32 4-3 4-7 4 28 4-19 4 48 4-6 4-27 4 27 4 42 4-21 4-6 4 46 4-12 4 0 4 12 4-9 4 41 4-2 4-4 4 28 4-10 4-12 4 21 4-11 4 33 4-29 4 39 4-13 4 25 4-18 4 1 4 7 4 23 4-19 4 12 4 9 4-13 4 16 4 31 4-43 4 30 4-15 4 14 4-2 4 6 4-11 4 22 4-26 4 37 4-23 4-6 4 15 4-3 4 11 4 14 4-20 4 0 4-18 4 16 4 17 4-27 4 21 4 9 4-16 4 18 4 20 4-7 4 23 4-24 4-10 4-8 4 10 4 7 4 13 4 2 4-21 4 26 4-24 4 13 4 11 4-28 4 36 4-5 4 40 4-41 4-3 4-14 4 10 4 19 4-5 4-38 4 25 4 10 4 12 4-12 4 1 4-1 4 7 4 18 4-22 4 15 4-11 4-4 4 24 4-33 4 24 4-14 4 1 4 9 4-13 4-3 4 5 4 14 4 3 4-20 4 24 4-17 4 20 4 3 4-34 4 30 4-7 4-2 4-9 4 7 4 11 4-21 4 19 4-23 4 37 4-14 4-3 4-8 4 20 4-35 4 38 4-1 4-4 4 16 4-8 4-16 4-2 4-4 4 8 4 14 4-21 4 30 4-30 4 14 4-22 4 44 4-26 4-19 4 9 4-3 4-4 4 19 4-5 4 5 4-2 4 4 4-1 4-8 4 24 4 0 4 0 4-12 4 23 4-12 4-3 4-3 4-29 4 8 4-6 4 41 4-29 4-12 4 19 4-16 4 1 4 35 4 4 4-25 4 37 4-20 4 5 4-11 4-3 4 33 4-45 4-6 4 33 4-6 4-14 4 13 4-4 4-9 4 14 4-13 4 13 4 7 4-23 4 3 4 42 4-32 4 2 4 0 4-16 4 21 4-10 4 15 4 4 4-6 4-20 4 8 4-1 4-10 4 8 4 17 4 11 4-22 4-2 4 0 4 9 4 9 4-13 4 0 4-18 4 6 4 4 4 10 4-22 4 47 4-34 4 24 4-23 4 7 4-9 4-8 4 4 4 12 4 28 4-4 4-17 4-7 4 19 4-30 4 10 4 19 4-6 4 1 4-15 4-27 4 28 4 0 4 7 4-1 4 12 4-12 4 4 4-24 4 37 4-15 4-10 4 12 4 13 4-15 4 22 4-4 4-9 4-5 4-6 4-4 4-5 4 15 4-5 4 9 4 2 4-2 4-19 4 12 4-1 4 5 4 11 4-17 4-3 4 2 4 0 4 6 4-15 4-9 4 9 4 9 4-17 4 28 4-9 4-11 4-4 4 29 4-22 4-4 4 5 4-2 4 8 4 11 4 8 4-3 4-20 4-5 4 8 4-20 4 20 4 10 4-1 4-11 4-17 4 15 4 5 4 8 4-11 4 2 4-3 4 11 4-14 4 15 4-2 4-16 4 7 4 19 4-3 4-4 4-13 4 15 4 13 4-19 4 13 4-8 4-34 4 43 4-37 4 32 4-24 4 19 4 17 4-7 4-12 4 13 4-13 4-3 4-8 4 6 4 6 4-1 4 6 4-6 4-14 4 10 4 13 4-7 4 2 4-10 4 11 4-35 4 35 4 14 4-3 4-12 4 25 4-36 4 6 4 5 4-2 4 1 4 10 4-31 4 25 4-1 4-3 4-9 4 2 4 37 4-45 4 16 4 2 4-21 4 17 4-9 4-5 4 25 4-28 4 18 4-17 4 16 4-10 4-5 4-4 4 29 4-22 4 41 4-24 4-19 4 28 4-14 4-6 4-8 4 5 4-1 4-11 4 24 4-1 4 1 4 2 4-24 4 5 4 3 4 10 4 24 4-8 4-11 4-2 4 9 4-31 4 20 4 1 4-14 4 25 4-35 4 1 4 24 4 9 4 4 4-16 4 6 4-10 4 11 4 6 4-9 4-41 4 25 4 9 4 10 4 6 4-28 4 29 4-51 4 26 4-26 4 37 4-23 4 1 4 40 4 6 4-45 4 24 4-11 4-5 4 9 4 16 4-5 4 2 4-4 4-19 4 8 4 10 4 3 4 5 4-30 4 8 4 1 4 6 4 6 4-12 4 15 4-18 4-4 4 16 4-5 4 33 4-16 4 10 4-20 4 9 4-20 4-7 4 15 4-8 4 3 4 25 4-32 4 15 4 4 4-8 4-9 4-3 4 30 4-38 4 30 4-18 4-10 4 24 4 0 4-7 4-2 4 2 4-7 4 5 4 30 4-11 4-12 4-4 4-9 4 9 4-14 4 17 4 2 4-6 4 5 4-14 4 3 4-9 4 5 4 0 4 12 4-14 4 4 4 10 4-5 4 23 4-38 4 21 4-4 4-2 4 5 4 1 4-14 4 2 4 16 4-9 4 4 4-7 4 6 4-6 4-14 4 21 4-1 4-11 4-9 4 30 4-3 4-12 4 6 4 4 4-38 4 21 4 2 4 0 4-11 4 10 4 3 4 9 4-5 4-1 4-5 4 11 4-19 4 16 4-14 4 8 4-3 4-9 4 12 4-7 4 35 4-30 4 17 4-11 4 9 4-31 4 25 4-11 4 7 4-5 4 12 4 9 4-26 4 4 4 4 4 10 4-9 4-7 4 22 4-7 4-14 4 17 4-18 4-2 4 8 4 5 4 7 4 0 4 4 4-32 4 23 4 17 4-32 4 2 4 2 4 29 4-29 4 5 4-15 4 19 4 15 4-30 4-5 4 34 4-11 4-15 4 2 4 0 4 13 4-9 4 8 4 12 4-27 4 10 4-10 4 4 4-7 4 6 4-8 4 7 4-19 4 35 4-4 4-3 4-7 4 3 4-11 4 2 4-22 4 13 4 20 4-11 4 9 4-5 4-3 4 29 4-19 4-1 4-11 4 13 4-7 4 22 4-4 4-13 4 13 4-10 4-7 4-10 4 15 4-23 4 41 4-29 4 20 4-8 4-5 4 4 4 14 4-24 4 8 4 4 4 1 4 3 4-5 4 6 4-21 4 25 4-31 4-4 4 28 4 5 4-11 4-3 4 21 4-28 4 14 4 3 4-13 4 1 4 4 4 0 4-4 4-4 4 6 4 0 4-14 4 28 4-9 4-14 4-1 4 0 4 25 4-3 4-14 4 4 4-16 4 15 4 15 4-5 4-18 4 14 4-3 4-7 4 17 4-5 4 5 4-10 4 18 4-31 4-10 4 15 4 11 4 5 4-15 4 5 4 6 4-19 4 21 4 10 4-3 4-14 4-19 4 24 4-14 4 13 4-25 4 4 4 15 4-28 4 4 4-11 4-12 4-5 4-40 4 19 4-12 4 8 4-26 4-5 4-4 4-24 4-1 4-8 4-13 4-13 4-8 4-10 4-13 4-10 4-12 4-1 4 10 4 10 4 12 4 11 4 11 4 12 4 10 4 2 4 16 4 26 4 6 4 30 4 13 4-3 4 27 4 13 4-13 4 25 4-27 4 27 4 3 4-7 4 4 4-17 4 26 4-24 4 0 4 12 4-2 4 0 4-7 4-31 4 14 4 17 4 8 4-7 4-7 4 27 4-17 4-5 4-3 4-9 4 14 4-15 4 5 4 7 4 6 4-19 4 5 4 18 4-2 4-10 4 12 4-15 4 9 4-5 4 3 4 5 4 4 4-2 4 9 4-10 4 21 4-17 4-12 4 14 4-9 4 4 4-16 4 25 4 7 4-3 4-4 4-6 4 5 4 8 4-5 4-7 4 1 4 20 4-13 4 1 4-6 4 12 4-9 4-24 4 32 4-23 4 5 4 37 4-29 4-6 4-14 4 20 4 1 4-12 4-5 4 4 4 24 4-4 4 2 4 22 4-35 4 33 4-11 4-16 4 2 4 9 4-12 4 4 4 3 4 0 4-3 4 7 4-13 4-3 4 17 4 5 4-27 4 13 4 15 4-4 4 3 4 8 4 1 4-19 4 13 4 12 4-16 4-2 4-9 4-14 4-6 4 12 4 17 4-8 4-13 4 18 4 8 4-25 4 11 4 7 4 7 4-8 4 4 4 4 4-8 4-1 4 5 4-19 4 31 4-19 4 17 4 1 4-23 4 21 4 3 4-18 4-1 4-4 4 16 4 4 4 2 4-9 4 1 4-13 4 9 4-2 4-2 4 12 4-13 4 14 4-2 4 0 4-5 4 14 4-18 4-7 4 9 4 10 4 2 4-15 4 6 4 7 4-14 4-1 4 6 4 6 4 10 4-9 4-3 4-1 4 5 4-8 4 10 4 3 4-23 4 16 4 12 4-21 4 4 4 7 4-12 4-6 4 24 4-18 4 5 4-5 4 24 4-11 4 0 4 0 4-16 4 16 4-15 4 10 4 5 4 0 4-20 4 24 4-6 4 9 4-11 4-3 4 0 4 0 4-7 4 5 4 11 4-22 4 18 4-20 4 35 4-25 4 9 4 3 4-8 4-5 4 5 4 11 4-15 4 13 4-3 4-12 4 13 4-6 4-11 4 9 4-8 4 18 4-1 4 2 4 3 4-17 4 4 4 24 4-35 4 7 4 2 4 3 4 6 4-8 4-6 4 11 4-5 4 5 4-15 4 23 4 7 4-20 4 15 4 1 4-12 4 6 4 4 4-14 4 1 4 8 4 5 4-10 4 11 4-18 4 14 4 0 4-13 4 27 4-5 4-13 4 6 4-13 4 15 4-13 4 6 4-5 4 9 4 6 4-2 4-7 4-3 4 1 4 14 4-2 4 0 4-6 4 2 4 20 4-32 4-3 4-5 4-1 4 13 4 4 4-3 4 18 4-10 4 5 4-8 4-11 4 8 4-20 4 36 4-20 4 7 4-5 4-6 4 9 4-18 4 24 4-9 4 7 4-5 4 3 4-5 4-4 4-5 4 10 4-7 4-2 4 1 4 26 4-10 4-1 4-12 4 8 4 2 4 9 4-23 4 20 4 11 4-37 4 24 4-3 4-1 4-16 4 14 4-14 4 19 4-3 4-13 4 31 4 2 4-11 4-19 4 12 4 6 4-27 4 18 4 1 4-5 4 7 4 8 4-19 4 7 4 12 4-20 4-1 4 1 4 8 4-10 4-5 4-2 4 5 4 27 4-4 4-33 4 22 4-7 4 9 4 9 4-5 4-3 4-17 4 15 4-11 4 7 4 6 4-6 4 19 4-12 4-2 4 0 4 15 4-15 4-8 4 10 4-13 4 2 4 8 4 7 4-18 4 15 4-9 4 12 4 0 4-14 4-16 4 19 4 10 4 3 4-6 4-20 4-8 4 20 4 9 4 11 4-9 4 2 4 9 4-12 4-17 4 15 4 13 4-27 4 3 4 14 4 3 4-13 4 2 4 8 4-8 4-1 4-1 4 11 4 0 4-13 4 10 4-9 4 17 4-10 4 8 4-7 4-13 4 27 4-17 4-9 4-5 4 3 4 40 4-25 4 10 4-3 4-10 4 6 4-13 4 4 4 11 4-17 4-1 4 9 4 0 4 7 4-14 4 12 4 2 4-6 4-18 4 27 4-14 4 14 4-10 4 9 4-13 4-4 4 1 4 2 4 7 4-3 4 7 4 14 4-15 4-8 4 4 4-13 4 15 4 2 4 2 4 13 4-12 4-14 4 7 4-5 4 9 4-12 4 2 4 4 4-9 4 10 4-7 4-3 4 33 4-32 4 16 4-24 4 25 4-3 4-18 4 7 4-4 4 8 4-10 4 4 4 18 4-12 4 8 4-16 4 20 4-11 4-10 4-9 4 23 4 1 4-12 4 6 4-14 4 31 4-2 4-20 4 11 4-10 4-3 4 2 4 4 4-7 4 10 4-2 4-10 4 7 4-8 4 16 4-10 4-8 4 17 4-9 4-8 4-3 4 12 4-8 4 14 4-7 4 4 4 2 4-4 4 5 4-5 4-1 4-28 4 12 4 5 4 14 4-19 4 22 4-4 4 0 4-5 4 4 4 3 4-16 4 14 4-21 4 15 4 15 4-21 4-5 4 8 4-6 4-11 4 26 4-12 4 12 4-10 4-3 4 0 4-1 4 4 4 0 4-16 4 13 4 5 4-6 4 22 4-19 4-7 4 12 4 5 4-9 4 14 4-13 4 2 4-12 4 4 4 3 4 6 4 1 4 2 4-6 4-19 4 17 4 11 4 0 4 0 4-5 4-11 4 22 4 1 4-24 4 12 4 3 4 2 4 7 4-10 4 1 4-6 4 9 4 0 4 1 4-2 4 4 4-8 4 9 4-4 4-11 4 9 4 4 4-7 4 14 4-2 4-7 4 7 4-8 4 1 4 8 4-8 4 4 4 0 4 4 4-14 4 7 4 2 4 11 4 4 4-4 4-11 4 17 4-2 4-22 4 18 4-5 4-11 4-7 4 12 4 4 4 13 4 0 4 6 4-20 4 15 4-19 4 11 4 0 4 7 4-14 4-6 4 24 4 1 4-12 4-4 4-1 4 18 4-9 4-6 4 14 4-16 4 6 4-3 4 9 4 12 4 1 4-23 4 11 4 1 4-9 4 10 4-12 4 6 4-1 4-2 4 22 4-9 4 6 4 4 4-32 4 22 4 1 4-10 4-3 4 29 4-7 4-21 4 28 4-24 4 7 4-11 4 29 4-7 4-18 4 11 4-4 4 7 4-8 4-2 4 13 4-16 4 10 4 4 4 15 4-16 4-3 4-25 4 17 4-1 4 8 4-9 4-8 4 23 4-12 4 13 4-2 4-16 4 4 4 10 4 9 4-9 4-5 4-14 4-1 4 3 4 16 4-9 4 1 4 2 4 3 4-3 4 3 4-13 4 16 4 4 4 3 4 1 4-18 4 5 4 8 4 0 4-13 4 11 4 3 4-11 4 1 4-8 4 13 4-13 4 26 4-36 4 20 4 2 4-3 4-5 4 0 4-12 4 23 4-3 4 6 4-5 4-2 4 4 4-8 4 1 4-7 4 5 4 5 4 8 4 7 4-9 4-8 4-1 4 3 4-1 4 0 4 3 4-6 4 6 4-21 4 33 4-13 4 2 4-16 4 7 4 11 4-17 4 6 4 16 4-12 4 9 4-5 4-7 4-3 4 8 4 15 4-14 4-16 4 10 4-2 4-4 4 0 4 7 4 15 4-5 4-16 4-3 4 10 4 17 4-18 4 11 4 7 4-9 4 1 4-33 4 36 4-18 4 1 4 1 4 11 4 7 4-20 4 2 4 5 4-10 4 7 4-11 4 15 4 6 4-4 4 3 4-5 4 5 4-6 4 20 4-14 4-3 4-14 4 9 4 0 4 13 4-9 4-1 4-3 4 19 4-19 4 14 4-8 4 25 4-27 4 3 4-6 4 14 4 13 4-28 4 14 4-27 4 18 4 0 4 13 4-11 4-10 4 13 4-4 4-2 4 4 4-11 4-3 4 12 4-4 4-3 4 19 4-21 4 1 4 10 4-9 4 14 4-19 4 19 4-18 4-1 4 17 4-17 4 1 4 0 4 7 4 3 4 18 4-20 4 4 4-3 4-9 4 11 4-11 4 12 4-11 4 7 4-13 4 13 4 6 4 1 4-1 4 6 4-16 4 17 4-8 4-3 4 5 4 5 4-26 4 3 4 12 4 9 4-7 4 8 4-1 4-24 4 7 4 2 4 13 4-13 4 6 4-6 4-4 4 7 4-11 4 1 4-9 4-14 4 0 4 11 4-14 4-12 4 2 4-3 4-13 4-2 4-4 4-9 4-6 4-6 4 7 4 3 4 9 4 7 4 3 4 7 4-3 4 11 4 1 4 22 4-4 4-4 4 20 4 1 4 3 4 0 4 15 4 6 4 6 4-9 4-6 4-4 4 12 4 9 4-17 4-4 4 5 4-5 4 27 4-23 4-16 4 9 4 14 4-8 4-3 4-4 4 3 4 13 4-3 4-5 4 13 4-21 4 15 4-15 4 17 4-6 4 5 4 16 4-33 4 12 4 1 4-6 4 2 4 16 4-13 4 5 4-2 4 3 4-1 4-11 4 15 4-14 4 10 4-6 4 7 4-1 4-9 4 22 4-20 4 7 4-3 4-4 4 6 4-6 4 13 4-21 4 14 4-6 4-5 4 12 4 7 4-7 4-1 4-7 4-6 4 5 4-12 4 8 4 21 4-20 4-14 4 27 4-3 4-5 4-7 4 6 4 0 4-5 4 1 4 21 4-23 4 7 4 11 4-11 4-5 4 1 4 12 4-7 4-5 4 3 4 3 4 10 4-4 4 2 4 8 4-27 4-7 4 31 4-30 4 22 4 1 4-8 4 12 4-11 4 5 4-16 4 9 4 6 4 12 4-3 4-21 4 2 4 14 4-12 4 10 4-9 4 9 4 7 4-1 4-17 4-1 4 21 4-24 4 12 4 2 4 13 4-22 4 15 4-6 4-5 4 8 4-18 4 18 4-5 4-12 4 16 4-6 4-2 4 5 4-7 4 1 4 20 4-16 4-13 4 13 4 1 4 6 4-1 4-4 4-7 4 7 4 3 4-14 4 0 4 6 4 11 4-3 4 9 4-13 4-2 4 4 4 5 4-4 4-7 4 10 4-17 4 10 4-17 4 27 4 3 4-8 4 3 4-8 4-12 4 1 4 11 4-6 4 2 4 13 4-7 4 0 4-14 4 17 4-8 4-6 4 9 4 10 4 1 4-16 4 2 4 1 4 7 4 4 4-7 4-6 4 14 4-12 4 8 4-15 4 6 4 12 4 0 4-7 4 5 4-12 4 22 4-13 4 8 4-8 4-3 4 3 4-6 4-1 4 2 4 1 4 3 4-13 4 7 4-9 4 7 4 8 4-8 4-2 4 7 4 1 4 10 4 3 4-34 4 26 4-10 4-3 4 20 4 3 4-18 4 0 4 1 4 14 4 0 4-15 4 0 4-3 4-3 4 4 4 3 4 5 4 6 4-1 4-4 4 3 4-5 4 9 4 1 4-19 4-3 4 14 4-1 4-2 4 11 4 0 4-12 4-5 4-6 4 18 4 0 4-11 4 9 4 4 4-5 4 6 4 4 4-18 4-10 4 10 4 6 4 0 4-1 4-9 4 7 4 15 4-7 4 11 4-23 4 7 4 4 4-17 4 5 4 26 4-28 4 8 4-4 4 18 4-10 4-5 4 5 4 7 4-17 4 16 4-6 4 3 4 1 4-4 4 3 4-7 4 1 4 9 4-9 4 1 4 15 4-9 4-3 4 14 4-23 4 0 4 3 4-3 4 15 4-7 4-8 4 4 4 7 4-8 4 9 4-19 4 16 4-6 4 18 4-15 4 2 4 1 4-13 4 10 4-2 4 11 4-18 4-2 4 26 4-22 4 12 4-3 4-11 4 1 4 3 4 2 4 5 4-2 4-1 4 19 4 0 4-20 4 8 4 2 4-6 4 6 4-20 4-1 4 7 4 9 4 1 4 1 4-2 4 14 4-26 4 16 4 4 4-8 4 6 4-2 4-5 4-13 4 7 4 18 4-16 4 4 4-11 4 7 4 5 4-3 4-2 4 2 4-1 4 17 4-16 4 3 4 5 4-11 4 10 4-13 4 17 4 0 4-9 4-1 4-11 4 9 4-3 4-7 4 4 4 18 4-13 4 5 4-9 4 26 4-23 4 0 4-9 4 35 4-25 4 8 4-8 4-4 4 18 4-10 4 1 4-9 4 8 4-8 4 15 4-10 4-1 4-1 4 4 4 6 4-8 4-4 4 8 4-10 4 12 4 6 4-11 4 4 4 4 4-11 4 17 4-13 4 7 4-19 4 5 4 12 4 4 4-9 4-1 4 9 4-4 4-4 4-4 4 14 4 2 4-14 4 9 4-7 4-1 4-4 4 9 4 1 4 4 4-4 4-4 4-7 4-2 4 9 4-8 4 26 4-23 4 7 4-4 4 7 4-4 4 7 4-8 4 10 4-4 4-1 4-4 4-3 4-6 4 11 4 17 4-16 4-4 4-6 4 5 4 0 4-6 4 2 4 2 4-5 4 16 4-8 4-4 4 4 4 6 4-11 4 7 4-24 4 14 4 10 4-7 4 15 4-11 4 8 4-17 4 16 4-2 4-12 4 6 4 10 4-10 4 4 4-6 4-5 4-2 4 8 4 4 4-2 4-2 4 14 4-5 4-7 4 8 4-16 4 11 4-1 4-3 4 0 4 1 4 2 4 1 4-10 4 15 4-8 4 0 4 12 4-20 4 15 4-9 4-11 4 16 4-7 4 13 4 4 4 1 4 0 4-18 4 5 4 8 4-1 4 4 4-15 4 0 4 15 4-24 4 19 4 5 4-2 4-12 4-1 4 9 4-8 4-1 4-3 4 11 4-3 4 11 4-12 4-1 4 10 4 0 4-11 4 0 4-13 4 9 4 8 4-16 4 19 4-9 4-5 4-4 4 9 4 4 4 6 4-12 4 16 4-10 4-9 4-3 4 12 4 10 4-8 4-2 4-13 4 22 4-7 4 2 4-9 4-5 4 20 4-7 4-5 4 0 4-13 4 13 4 10 4-18 4 14 4-9 4 12 4-11 4 15 4-19 4 14 4-8 4 4 4-15 4 17 4 1 4 1 4-11 4 6 4-6 4 25 4-24 4 5 4-6 4 12 4-11 4 3 4-6 4 1 4-3 4 20 4-10 4-1 4 18 4-15 4 0 4 3 4-4 4-2 4-11 4 9 4 18 4-9 4 1 4-18 4 10 4-5 4 9 4-4 4-12 4 24 4-16 4 9 4-9 4-5 4 5 4 1 4 11 4-12 4-8 4 0 4 11 4 14 4-9 4-12 4 15 4-6 4-1 4 4 4-6 4-6 4 14 4-9 4 14 4-3 4-15 4 19 4-1 4-18 4 11 4-4 4-3 4-11 4 21 4-5 4 15 4-9 4 0 4-2 4 4 4-15 4 3 4 1 4-3 4-9 4 3 4-2 4 20 4 0 4 0 4-22 4 16 4-7 4 20 4-4 4-9 4 3 4 2 4-3 4-13 4 12 4 2 4-7 4 7 4-11 4-2 4 21 4 2 4-9 4-15 4 27 4-30 4 13 4-1 4-5 4 2 4 0 4 2 4-1 4 14 4-3 4 0"/>
</g>
<g id="xticklabels" class="b" font-size="57" text-anchor="middle">
<text x="123.4" y="1205">10</text>
<text x="316.0" y="1205">20</text>
<text x="508.6" y="1205">30</text>
<text x="701.2" y="1205">40</text>
<text x="893.8" y="1205">50</text>
<text x="1086.4" y="1205">60</text>
<text x="1279.0" y="1205">70</text>
<text x="1471.6" y="1205">80</text>
</g>
<text class="b" x="797.8" y="1313.5" font-size="57" text-anchor="middle" textLength="256" lengthAdjust="spacing">2θ(degree)</text>
<text class="b" transform="translate(54,589.5) rotate(-90)" font-size="57" text-anchor="middle" textLength="341" lengthAdjust="spacing">Intensity(a.u.)</text>
<text class="b" x="1093.5" y="267.2" font-size="58.5" style="fill:#b400dc" textLength="215.1" lengthAdjust="spacing">Ag-8/CN</text>
<text class="b" x="1099.8" y="456.2" font-size="58.5" style="fill:#0c8a0c" textLength="213.6" lengthAdjust="spacing">Ag-6/CN</text>
<text class="b" x="1097.5" y="675.1" font-size="59.5" style="fill:#0a0aff" textLength="214.3" lengthAdjust="spacing">Ag-4/CN</text>
<text class="b" x="1099.8" y="889.6" font-size="58.5" style="fill:#ff0a0a" textLength="213.6" lengthAdjust="spacing">Ag-2/CN</text>
<text class="sans" x="1202.6" y="1091.6" font-size="57" textLength="84.3" lengthAdjust="spacingAndGlyphs">CN</text>
<text class="lg" x="1379.5" y="124.4" font-size="58" textLength="69" lengthAdjust="spacing">Ag</text>
<text class="lg" x="1381" y="216.7" font-size="58" textLength="81" lengthAdjust="spacing">CN</text>
<g id="markers" fill="#000">
<path d="M188.5,211.9 L201.0,227.4 L188.5,242.9 L176.0,227.4 Z"/>
<path d="M468.6,68.0 L481.1,83.5 L468.6,99.0 L456.1,83.5 Z"/>
<path d="M190.1,405.9 L202.6,421.4 L190.1,436.9 L177.6,421.4 Z"/>
<path d="M467.0,279.7 L479.5,295.2 L467.0,310.7 L454.5,295.2 Z"/>
<path d="M190.1,620.2 L202.6,635.7 L190.1,651.2 L177.6,635.7 Z"/>
<path d="M465.3,473.5 L477.8,489.0 L465.3,504.5 L452.8,489.0 Z"/>
<path d="M191.7,832.6 L204.2,848.1 L191.7,863.6 L179.2,848.1 Z"/>
<path d="M465.3,688.2 L477.8,703.7 L465.3,719.2 L452.8,703.7 Z"/>
<path d="M191.7,1033.6 L204.2,1049.1 L191.7,1064.6 L179.2,1049.1 Z"/>
<path d="M464.3,898.4 L476.8,913.9 L464.3,929.4 L451.8,913.9 Z"/>
<path d="M1358.0,184.6 L1370.0,200.8 L1358.0,217.1 L1346.0,200.8 Z"/>
<g><ellipse cx="557.4" cy="229.3" rx="7.1" ry="6.2"/><circle cx="548.4" cy="242.5" r="7.1"/><circle cx="566.4" cy="242.5" r="7.1"/><rect x="555.8" y="233.3" width="3.2" height="22.2"/><path d="M555.8,251.8 L559.0,251.8 L562.0,255.7 L552.8,255.7 Z"/><rect x="553.4" y="234.8" width="8.0" height="8.0"/></g>
<g><ellipse cx="824.8" cy="240.3" rx="7.1" ry="6.2"/><circle cx="815.8" cy="253.5" r="7.1"/><circle cx="833.8" cy="253.5" r="7.1"/><rect x="823.2" y="244.3" width="3.2" height="22.2"/><path d="M823.2,262.8 L826.4,262.8 L829.4,266.7 L820.2,266.7 Z"/><rect x="820.8" y="245.8" width="8.0" height="8.0"/></g>
<g><ellipse cx="556.6" cy="426.2" rx="7.1" ry="6.2"/><circle cx="547.6" cy="439.4" r="7.1"/><circle cx="565.6" cy="439.4" r="7.1"/><rect x="555.0" y="430.2" width="3.2" height="22.2"/><path d="M555.0,448.7 L558.2,448.7 L561.2,452.6 L552.0,452.6 Z"/><rect x="552.6" y="431.7" width="8.0" height="8.0"/></g>
<g><ellipse cx="826.1" cy="433.3" rx="7.1" ry="6.2"/><circle cx="817.1" cy="446.5" r="7.1"/><circle cx="835.1" cy="446.5" r="7.1"/><rect x="824.5" y="437.3" width="3.2" height="22.2"/><path d="M824.5,455.8 L827.7,455.8 L830.7,459.7 L821.5,459.7 Z"/><rect x="822.1" y="438.8" width="8.0" height="8.0"/></g>
<g><ellipse cx="556.6" cy="642.8" rx="7.1" ry="6.2"/><circle cx="547.6" cy="656.0" r="7.1"/><circle cx="565.6" cy="656.0" r="7.1"/><rect x="555.0" y="646.8" width="3.2" height="22.2"/><path d="M555.0,665.3 L558.2,665.3 L561.2,669.2 L552.0,669.2 Z"/><rect x="552.6" y="648.3" width="8.0" height="8.0"/></g>
<g><ellipse cx="826.1" cy="647.3" rx="7.1" ry="6.2"/><circle cx="817.1" cy="660.5" r="7.1"/><circle cx="835.1" cy="660.5" r="7.1"/><rect x="824.5" y="651.3" width="3.2" height="22.2"/><path d="M824.5,669.8 L827.7,669.8 L830.7,673.7 L821.5,673.7 Z"/><rect x="822.1" y="652.8" width="8.0" height="8.0"/></g>
<g><ellipse cx="556.0" cy="849.6" rx="7.1" ry="6.2"/><circle cx="547.0" cy="862.8" r="7.1"/><circle cx="565.0" cy="862.8" r="7.1"/><rect x="554.4" y="853.6" width="3.2" height="22.2"/><path d="M554.4,872.1 L557.6,872.1 L560.6,876.0 L551.4,876.0 Z"/><rect x="552.0" y="855.1" width="8.0" height="8.0"/></g>
<g><ellipse cx="827.7" cy="860.0" rx="7.1" ry="6.2"/><circle cx="818.7" cy="873.2" r="7.1"/><circle cx="836.7" cy="873.2" r="7.1"/><rect x="826.1" y="864.0" width="3.2" height="22.2"/><path d="M826.1,882.5 L829.3,882.5 L832.3,886.4 L823.1,886.4 Z"/><rect x="823.7" y="865.5" width="8.0" height="8.0"/></g>
<g><ellipse cx="1358.0" cy="98.3" rx="7.6" ry="6.6"/><circle cx="1348.4" cy="112.4" r="7.6"/><circle cx="1367.6" cy="112.4" r="7.6"/><rect x="1356.3" y="102.6" width="3.4" height="23.8"/><path d="M1356.3,122.4 L1359.7,122.4 L1362.9,126.5 L1353.1,126.5 Z"/><rect x="1353.7" y="104.2" width="8.6" height="8.6"/></g>
</g>
</g>
</svg></body></html>
